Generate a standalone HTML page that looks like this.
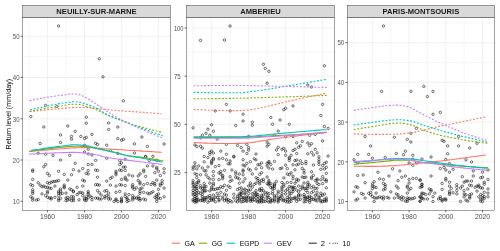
<!DOCTYPE html>
<html><head><meta charset="utf-8"><title>Return level</title>
<style>html,body{margin:0;padding:0;background:#fff;overflow:hidden}svg{display:block}</style></head>
<body>
<svg width="500" height="251" viewBox="0 0 500 251" font-family="'Liberation Sans', sans-serif">
<rect width="500" height="251" fill="#fff"/>
<g>
<path d="M22.5 180.65H170.5M22.5 139.35H170.5M22.5 98.05H170.5M22.5 56.75H170.5M29.00 17.4V210.4M66.00 17.4V210.4M103.00 17.4V210.4M140.00 17.4V210.4" stroke="#ebebeb" stroke-width="0.45" fill="none"/>
<path d="M22.5 201.3H170.5M22.5 160.0H170.5M22.5 118.8H170.5M22.5 77.5H170.5M22.5 36.2H170.5M47.50 17.4V210.4M84.50 17.4V210.4M121.50 17.4V210.4M158.50 17.4V210.4" stroke="#ebebeb" stroke-width="0.68" fill="none"/>
<g fill="none" stroke="#000" stroke-opacity="0.92" stroke-width="0.6">
<circle cx="58.6" cy="26.0" r="1.2"/><circle cx="99.3" cy="58.8" r="1.2"/><circle cx="103.0" cy="76.8" r="1.2"/><circle cx="123.4" cy="100.8" r="1.2"/><circle cx="30.8" cy="116.5" r="1.2"/><circle cx="45.6" cy="105.4" r="1.2"/><circle cx="56.8" cy="106.5" r="1.2"/><circle cx="86.3" cy="117.2" r="1.2"/><circle cx="86.3" cy="123.2" r="1.2"/><circle cx="108.6" cy="123.0" r="1.2"/><circle cx="108.6" cy="129.5" r="1.2"/><circle cx="117.8" cy="127.0" r="1.2"/><circle cx="117.8" cy="138.6" r="1.2"/><circle cx="121.5" cy="140.2" r="1.2"/><circle cx="123.4" cy="139.4" r="1.2"/><circle cx="141.9" cy="137.0" r="1.2"/><circle cx="134.4" cy="143.9" r="1.2"/><circle cx="147.4" cy="146.4" r="1.2"/><circle cx="164.1" cy="144.0" r="1.2"/><circle cx="106.7" cy="145.2" r="1.2"/><circle cx="97.5" cy="144.5" r="1.2"/><circle cx="134.4" cy="153.1" r="1.2"/><circle cx="117.8" cy="153.4" r="1.2"/><circle cx="110.4" cy="150.6" r="1.2"/><circle cx="145.6" cy="156.3" r="1.2"/><circle cx="145.6" cy="156.9" r="1.2"/><circle cx="152.9" cy="156.3" r="1.2"/><circle cx="43.8" cy="127.0" r="1.2"/><circle cx="67.8" cy="126.0" r="1.2"/><circle cx="75.2" cy="131.4" r="1.2"/><circle cx="60.5" cy="135.0" r="1.2"/><circle cx="71.5" cy="136.4" r="1.2"/><circle cx="71.5" cy="139.2" r="1.2"/><circle cx="80.8" cy="136.4" r="1.2"/><circle cx="84.5" cy="138.4" r="1.2"/><circle cx="86.3" cy="137.4" r="1.2"/><circle cx="91.9" cy="134.4" r="1.2"/><circle cx="40.1" cy="143.5" r="1.2"/><circle cx="60.5" cy="142.5" r="1.2"/><circle cx="84.5" cy="145.4" r="1.2"/><circle cx="95.6" cy="143.3" r="1.2"/><circle cx="88.2" cy="149.2" r="1.2"/><circle cx="38.2" cy="153.2" r="1.2"/><circle cx="45.6" cy="154.2" r="1.2"/><circle cx="53.0" cy="155.4" r="1.2"/><circle cx="69.7" cy="155.4" r="1.2"/><circle cx="60.5" cy="160.0" r="1.2"/><circle cx="84.5" cy="151.9" r="1.2"/><circle cx="88.2" cy="153.9" r="1.2"/><circle cx="91.9" cy="155.0" r="1.2"/><circle cx="95.6" cy="160.4" r="1.2"/><circle cx="75.2" cy="163.3" r="1.2"/><circle cx="45.6" cy="164.5" r="1.2"/><circle cx="43.8" cy="166.8" r="1.2"/><circle cx="88.2" cy="164.5" r="1.2"/><circle cx="91.9" cy="164.5" r="1.2"/><circle cx="106.7" cy="158.2" r="1.2"/><circle cx="125.2" cy="159.2" r="1.2"/><circle cx="119.7" cy="160.7" r="1.2"/><circle cx="149.2" cy="160.4" r="1.2"/><circle cx="156.7" cy="160.4" r="1.2"/><circle cx="119.7" cy="164.5" r="1.2"/><circle cx="121.5" cy="163.0" r="1.2"/><circle cx="147.4" cy="166.0" r="1.2"/><circle cx="152.9" cy="166.0" r="1.2"/><circle cx="156.7" cy="167.5" r="1.2"/><circle cx="123.4" cy="167.1" r="1.2"/><circle cx="125.2" cy="167.1" r="1.2"/><circle cx="32.7" cy="170.0" r="1.2"/><circle cx="32.7" cy="171.3" r="1.2"/><circle cx="58.6" cy="171.3" r="1.2"/><circle cx="73.4" cy="169.7" r="1.2"/><circle cx="79.0" cy="171.0" r="1.2"/><circle cx="82.7" cy="168.5" r="1.2"/><circle cx="88.2" cy="170.5" r="1.2"/><circle cx="95.6" cy="170.0" r="1.2"/><circle cx="47.5" cy="173.4" r="1.2"/><circle cx="86.3" cy="173.4" r="1.2"/><circle cx="88.2" cy="173.9" r="1.2"/><circle cx="49.4" cy="175.5" r="1.2"/><circle cx="64.2" cy="174.4" r="1.2"/><circle cx="71.5" cy="174.7" r="1.2"/><circle cx="32.7" cy="179.4" r="1.2"/><circle cx="38.2" cy="182.7" r="1.2"/><circle cx="47.5" cy="182.7" r="1.2"/><circle cx="49.4" cy="183.4" r="1.2"/><circle cx="51.2" cy="182.2" r="1.2"/><circle cx="53.0" cy="181.7" r="1.2"/><circle cx="54.9" cy="181.4" r="1.2"/><circle cx="56.8" cy="181.1" r="1.2"/><circle cx="58.6" cy="180.6" r="1.2"/><circle cx="67.8" cy="180.1" r="1.2"/><circle cx="82.7" cy="180.1" r="1.2"/><circle cx="84.5" cy="181.1" r="1.2"/><circle cx="30.8" cy="184.7" r="1.2"/><circle cx="32.7" cy="185.6" r="1.2"/><circle cx="40.1" cy="185.1" r="1.2"/><circle cx="42.0" cy="186.8" r="1.2"/><circle cx="43.8" cy="186.1" r="1.2"/><circle cx="45.6" cy="187.3" r="1.2"/><circle cx="47.5" cy="187.3" r="1.2"/><circle cx="49.4" cy="188.1" r="1.2"/><circle cx="51.2" cy="188.4" r="1.2"/><circle cx="54.9" cy="186.1" r="1.2"/><circle cx="64.2" cy="185.1" r="1.2"/><circle cx="64.2" cy="186.8" r="1.2"/><circle cx="64.2" cy="187.8" r="1.2"/><circle cx="77.1" cy="187.3" r="1.2"/><circle cx="82.7" cy="186.1" r="1.2"/><circle cx="95.6" cy="184.7" r="1.2"/><circle cx="32.7" cy="189.8" r="1.2"/><circle cx="60.5" cy="188.9" r="1.2"/><circle cx="69.7" cy="188.9" r="1.2"/><circle cx="71.5" cy="189.8" r="1.2"/><circle cx="73.4" cy="191.1" r="1.2"/><circle cx="32.7" cy="191.8" r="1.2"/><circle cx="32.7" cy="193.4" r="1.2"/><circle cx="42.0" cy="193.9" r="1.2"/><circle cx="47.5" cy="191.4" r="1.2"/><circle cx="47.5" cy="192.8" r="1.2"/><circle cx="58.6" cy="191.4" r="1.2"/><circle cx="60.5" cy="191.1" r="1.2"/><circle cx="58.6" cy="193.1" r="1.2"/><circle cx="60.5" cy="193.9" r="1.2"/><circle cx="62.3" cy="193.4" r="1.2"/><circle cx="66.0" cy="193.1" r="1.2"/><circle cx="73.4" cy="191.8" r="1.2"/><circle cx="79.0" cy="192.8" r="1.2"/><circle cx="80.8" cy="192.3" r="1.2"/><circle cx="77.1" cy="194.5" r="1.2"/><circle cx="82.7" cy="193.1" r="1.2"/><circle cx="88.2" cy="191.4" r="1.2"/><circle cx="88.2" cy="193.1" r="1.2"/><circle cx="88.2" cy="194.5" r="1.2"/><circle cx="30.8" cy="196.8" r="1.2"/><circle cx="32.7" cy="198.1" r="1.2"/><circle cx="45.6" cy="195.6" r="1.2"/><circle cx="47.5" cy="197.3" r="1.2"/><circle cx="49.4" cy="198.1" r="1.2"/><circle cx="51.2" cy="197.8" r="1.2"/><circle cx="51.2" cy="199.0" r="1.2"/><circle cx="54.9" cy="197.3" r="1.2"/><circle cx="58.6" cy="195.6" r="1.2"/><circle cx="58.6" cy="199.0" r="1.2"/><circle cx="60.5" cy="198.5" r="1.2"/><circle cx="66.0" cy="198.1" r="1.2"/><circle cx="67.8" cy="197.3" r="1.2"/><circle cx="69.7" cy="199.0" r="1.2"/><circle cx="71.5" cy="196.5" r="1.2"/><circle cx="73.4" cy="196.8" r="1.2"/><circle cx="73.4" cy="199.0" r="1.2"/><circle cx="82.7" cy="195.6" r="1.2"/><circle cx="86.3" cy="196.8" r="1.2"/><circle cx="84.5" cy="198.5" r="1.2"/><circle cx="86.3" cy="199.0" r="1.2"/><circle cx="88.2" cy="197.8" r="1.2"/><circle cx="90.1" cy="196.1" r="1.2"/><circle cx="91.9" cy="197.3" r="1.2"/><circle cx="95.6" cy="198.1" r="1.2"/><circle cx="32.7" cy="200.1" r="1.2"/><circle cx="36.4" cy="200.1" r="1.2"/><circle cx="38.2" cy="199.5" r="1.2"/><circle cx="58.6" cy="200.6" r="1.2"/><circle cx="66.0" cy="200.6" r="1.2"/><circle cx="67.8" cy="200.1" r="1.2"/><circle cx="71.5" cy="200.6" r="1.2"/><circle cx="73.4" cy="200.6" r="1.2"/><circle cx="79.0" cy="199.8" r="1.2"/><circle cx="84.5" cy="200.1" r="1.2"/><circle cx="86.3" cy="200.6" r="1.2"/><circle cx="91.9" cy="199.8" r="1.2"/><circle cx="97.5" cy="170.5" r="1.2"/><circle cx="116.0" cy="171.3" r="1.2"/><circle cx="116.0" cy="173.0" r="1.2"/><circle cx="119.7" cy="170.0" r="1.2"/><circle cx="121.5" cy="170.5" r="1.2"/><circle cx="125.2" cy="170.5" r="1.2"/><circle cx="143.7" cy="170.0" r="1.2"/><circle cx="143.7" cy="171.7" r="1.2"/><circle cx="156.7" cy="168.8" r="1.2"/><circle cx="158.5" cy="171.3" r="1.2"/><circle cx="164.1" cy="168.8" r="1.2"/><circle cx="164.1" cy="172.7" r="1.2"/><circle cx="140.0" cy="173.9" r="1.2"/><circle cx="154.8" cy="172.7" r="1.2"/><circle cx="97.5" cy="177.2" r="1.2"/><circle cx="106.7" cy="181.1" r="1.2"/><circle cx="110.4" cy="178.4" r="1.2"/><circle cx="112.2" cy="177.2" r="1.2"/><circle cx="116.0" cy="174.7" r="1.2"/><circle cx="121.5" cy="179.4" r="1.2"/><circle cx="125.2" cy="177.2" r="1.2"/><circle cx="125.2" cy="178.9" r="1.2"/><circle cx="127.0" cy="180.1" r="1.2"/><circle cx="128.9" cy="175.0" r="1.2"/><circle cx="132.6" cy="176.0" r="1.2"/><circle cx="138.2" cy="176.0" r="1.2"/><circle cx="145.6" cy="176.4" r="1.2"/><circle cx="160.4" cy="175.5" r="1.2"/><circle cx="138.2" cy="180.6" r="1.2"/><circle cx="156.7" cy="180.1" r="1.2"/><circle cx="162.2" cy="180.6" r="1.2"/><circle cx="140.0" cy="182.2" r="1.2"/><circle cx="140.0" cy="183.9" r="1.2"/><circle cx="143.7" cy="184.7" r="1.2"/><circle cx="147.4" cy="183.4" r="1.2"/><circle cx="151.1" cy="184.4" r="1.2"/><circle cx="152.9" cy="182.7" r="1.2"/><circle cx="154.8" cy="183.4" r="1.2"/><circle cx="154.8" cy="185.1" r="1.2"/><circle cx="160.4" cy="183.9" r="1.2"/><circle cx="160.4" cy="185.6" r="1.2"/><circle cx="162.2" cy="183.4" r="1.2"/><circle cx="97.5" cy="184.7" r="1.2"/><circle cx="99.3" cy="185.1" r="1.2"/><circle cx="110.4" cy="185.1" r="1.2"/><circle cx="116.0" cy="186.1" r="1.2"/><circle cx="119.7" cy="184.7" r="1.2"/><circle cx="121.5" cy="185.1" r="1.2"/><circle cx="125.2" cy="185.6" r="1.2"/><circle cx="132.6" cy="184.7" r="1.2"/><circle cx="132.6" cy="186.4" r="1.2"/><circle cx="132.6" cy="187.8" r="1.2"/><circle cx="136.3" cy="187.8" r="1.2"/><circle cx="134.4" cy="189.4" r="1.2"/><circle cx="140.0" cy="188.9" r="1.2"/><circle cx="141.9" cy="188.1" r="1.2"/><circle cx="158.5" cy="189.4" r="1.2"/><circle cx="164.1" cy="188.1" r="1.2"/><circle cx="97.5" cy="190.6" r="1.2"/><circle cx="99.3" cy="192.8" r="1.2"/><circle cx="104.8" cy="191.1" r="1.2"/><circle cx="106.7" cy="190.6" r="1.2"/><circle cx="108.6" cy="193.1" r="1.2"/><circle cx="116.0" cy="192.3" r="1.2"/><circle cx="119.7" cy="191.4" r="1.2"/><circle cx="125.2" cy="193.9" r="1.2"/><circle cx="128.9" cy="194.5" r="1.2"/><circle cx="140.0" cy="191.4" r="1.2"/><circle cx="140.0" cy="193.4" r="1.2"/><circle cx="143.7" cy="192.3" r="1.2"/><circle cx="147.4" cy="193.1" r="1.2"/><circle cx="149.2" cy="193.9" r="1.2"/><circle cx="151.1" cy="192.8" r="1.2"/><circle cx="152.9" cy="191.8" r="1.2"/><circle cx="156.7" cy="194.8" r="1.2"/><circle cx="158.5" cy="193.9" r="1.2"/><circle cx="101.2" cy="195.1" r="1.2"/><circle cx="104.8" cy="196.5" r="1.2"/><circle cx="106.7" cy="195.6" r="1.2"/><circle cx="108.6" cy="196.5" r="1.2"/><circle cx="97.5" cy="198.1" r="1.2"/><circle cx="99.3" cy="199.0" r="1.2"/><circle cx="101.2" cy="199.0" r="1.2"/><circle cx="104.8" cy="198.1" r="1.2"/><circle cx="108.6" cy="199.0" r="1.2"/><circle cx="110.4" cy="199.0" r="1.2"/><circle cx="116.0" cy="199.0" r="1.2"/><circle cx="121.5" cy="198.1" r="1.2"/><circle cx="125.2" cy="196.5" r="1.2"/><circle cx="127.0" cy="197.8" r="1.2"/><circle cx="127.0" cy="199.0" r="1.2"/><circle cx="132.6" cy="195.6" r="1.2"/><circle cx="132.6" cy="198.1" r="1.2"/><circle cx="134.4" cy="197.8" r="1.2"/><circle cx="136.3" cy="198.1" r="1.2"/><circle cx="138.2" cy="196.8" r="1.2"/><circle cx="138.2" cy="199.0" r="1.2"/><circle cx="140.0" cy="198.5" r="1.2"/><circle cx="143.7" cy="199.0" r="1.2"/><circle cx="154.8" cy="197.3" r="1.2"/><circle cx="156.7" cy="196.5" r="1.2"/><circle cx="156.7" cy="199.0" r="1.2"/><circle cx="158.5" cy="197.8" r="1.2"/><circle cx="160.4" cy="198.5" r="1.2"/><circle cx="164.1" cy="196.8" r="1.2"/><circle cx="121.5" cy="199.8" r="1.2"/><circle cx="114.1" cy="201.5" r="1.2"/><circle cx="116.0" cy="200.1" r="1.2"/><circle cx="117.8" cy="201.5" r="1.2"/><circle cx="121.5" cy="201.1" r="1.2"/><circle cx="127.0" cy="201.5" r="1.2"/><circle cx="128.9" cy="200.6" r="1.2"/><circle cx="132.6" cy="199.8" r="1.2"/><circle cx="140.0" cy="200.1" r="1.2"/><circle cx="145.6" cy="199.8" r="1.2"/><circle cx="156.7" cy="201.5" r="1.2"/><circle cx="121.5" cy="201.8" r="1.2"/>
</g>
<g fill="none" stroke-width="1.12" stroke-linejoin="round">
<path d="M29.2 151.5L31.1 151.3L32.9 151.2L34.8 151.0L36.6 150.8L38.5 150.7L40.3 150.5L42.2 150.3L44.0 150.2L45.9 150.0L47.7 149.9L49.6 149.7L51.4 149.6L53.3 149.4L55.1 149.3L57.0 149.1L58.8 149.0L60.7 148.8L62.5 148.7L64.4 148.6L66.2 148.4L68.1 148.3L69.9 148.1L71.8 148.0L73.6 147.9L75.5 147.9L77.3 147.8L79.2 147.7L81.0 147.7L82.9 147.6L84.7 147.6L86.6 147.6L88.4 147.6L90.3 147.7L92.1 147.8L94.0 147.9L95.8 148.0L97.7 148.1L99.5 148.3L101.4 148.4L103.2 148.6L105.1 148.7L106.9 148.9L108.8 149.0L110.6 149.2L112.5 149.3L114.3 149.4L116.2 149.5L118.0 149.6L119.9 149.7L121.7 149.8L123.6 149.9L125.4 150.0L127.3 150.2L129.1 150.3L131.0 150.4L132.8 150.5L134.7 150.6L136.5 150.7L138.4 150.8L140.2 150.9L142.1 151.1L143.9 151.2L145.8 151.3L147.6 151.4L149.5 151.5L151.3 151.6L153.2 151.7L155.0 151.9L156.9 152.0L158.7 152.1L160.6 152.2L161.9 152.3" stroke="#F8766D"/>
<path d="M29.2 151.3L31.1 151.1L32.9 150.8L34.8 150.6L36.6 150.3L38.5 150.1L40.3 149.9L42.2 149.6L44.0 149.4L45.9 149.1L47.7 148.9L49.6 148.7L51.4 148.4L53.3 148.2L55.1 147.9L57.0 147.7L58.8 147.5L60.7 147.3L62.5 147.1L64.4 146.9L66.2 146.8L68.1 146.6L69.9 146.5L71.8 146.4L73.6 146.3L75.5 146.3L77.3 146.3L79.2 146.3L81.0 146.4L82.9 146.4L84.7 146.5L86.6 146.6L88.4 146.8L90.3 147.1L92.1 147.5L94.0 148.0L95.8 148.4L97.7 148.8L99.5 149.2L101.4 149.6L103.2 149.9L105.1 150.3L106.9 150.7L108.8 151.1L110.6 151.5L112.5 151.9L114.3 152.3L116.2 152.7L118.0 153.1L119.9 153.6L121.7 154.2L123.6 154.7L125.4 155.2L127.3 155.6L129.1 155.8L131.0 156.1L132.8 156.3L134.7 156.5L136.5 156.7L138.4 156.9L140.2 157.1L142.1 157.4L143.9 157.6L145.8 157.9L147.6 158.2L149.5 158.5L151.3 158.8L153.2 159.1L155.0 159.4L156.9 159.8L158.7 160.1L160.6 160.5L162.4 160.8L163.4 161.0" stroke="#7CAE00"/>
<path d="M31.1 150.4L33.0 150.1L34.8 149.8L36.7 149.5L38.5 149.2L40.4 149.0L42.2 148.7L44.1 148.4L45.9 148.1L47.8 147.9L49.6 147.6L51.5 147.4L53.3 147.1L55.2 146.9L57.0 146.6L58.9 146.4L60.7 146.2L62.6 146.0L64.4 145.7L66.3 145.5L68.1 145.2L70.0 145.0L71.8 144.9L73.7 144.8L75.5 144.8L77.4 144.9L79.2 145.0L81.1 145.1L82.9 145.3L84.8 145.5L86.6 145.7L88.5 146.1L90.3 146.5L92.2 147.0L94.0 147.5L95.9 148.0L97.7 148.5L99.6 148.9L101.4 149.3L103.3 149.8L105.1 150.2L107.0 150.6L108.8 151.0L110.7 151.5L112.5 151.9L114.4 152.3L116.2 152.8L118.1 153.2L119.9 153.7L121.8 154.2L123.6 154.7L125.5 155.2L127.3 155.6L129.2 156.0L131.0 156.3L132.9 156.6L134.7 156.9L136.6 157.2L138.4 157.5L140.3 157.8L142.1 158.1L144.0 158.5L145.8 158.8L147.7 159.2L149.5 159.5L151.4 159.9L153.2 160.2L155.1 160.6L156.9 161.0L158.8 161.4L160.6 161.8L162.5 162.1" stroke="#00BFC4"/>
<path d="M29.2 154.1L31.1 154.0L32.9 154.0L34.8 153.9L36.6 153.8L38.5 153.7L40.3 153.7L42.2 153.6L44.0 153.5L45.9 153.4L47.7 153.3L49.6 153.2L51.4 153.1L53.3 153.0L55.1 152.9L57.0 152.8L58.8 152.7L60.7 152.7L62.5 152.6L64.4 152.6L66.2 152.5L68.1 152.5L69.9 152.4L71.8 152.4L73.6 152.4L75.5 152.4L77.3 152.5L79.2 152.6L81.0 152.8L82.9 152.9L84.7 153.1L86.6 153.3L88.4 153.5L90.3 153.8L92.1 154.0L94.0 154.3L95.8 154.7L97.7 155.0L99.5 155.5L101.4 156.1L103.2 156.7L105.1 157.1L106.9 157.4L108.8 157.8L110.6 158.0L112.5 158.3L114.3 158.5L116.2 158.8L118.0 159.0L119.9 159.2L121.7 159.4L123.6 159.7L125.4 159.9L127.3 160.1L129.1 160.4L131.0 160.6L132.8 160.8L134.7 161.1L136.5 161.3L138.4 161.5L140.2 161.8L142.1 162.0L143.9 162.2L145.8 162.5L147.6 162.7L149.5 162.9L151.3 163.1L153.2 163.4L155.0 163.6L156.9 163.8L158.7 164.0L160.6 164.3L162.4 164.5" stroke="#C77CFF"/>
<path d="M29.6 111.5L31.5 111.3L33.3 111.1L35.2 111.0L37.0 110.8L38.9 110.6L40.7 110.4L42.6 110.2L44.4 110.1L46.3 109.9L48.1 109.7L50.0 109.6L51.8 109.4L53.7 109.2L55.5 109.0L57.4 108.9L59.2 108.7L61.1 108.5L62.9 108.3L64.8 108.1L66.6 107.9L68.5 107.8L70.3 107.7L72.2 107.6L74.0 107.5L75.9 107.5L77.7 107.5L79.6 107.5L81.4 107.5L83.3 107.5L85.1 107.5L87.0 107.6L88.8 107.7L90.7 107.9L92.5 108.0L94.4 108.2L96.2 108.4L98.1 108.6L99.9 108.8L101.8 109.0L103.6 109.2L105.5 109.4L107.3 109.6L109.2 109.8L111.0 110.0L112.9 110.2L114.7 110.3L116.6 110.5L118.4 110.7L120.3 110.8L122.1 110.9L124.0 111.1L125.8 111.2L127.7 111.3L129.5 111.4L131.4 111.5L133.2 111.7L135.1 111.8L136.9 111.9L138.8 112.0L140.6 112.2L142.5 112.3L144.3 112.4L146.2 112.6L148.0 112.7L149.9 112.8L151.7 113.0L153.6 113.1L155.4 113.2L157.3 113.4L159.1 113.5L161.0 113.7L161.5 113.7" stroke="#F8766D" stroke-dasharray="1.9 1.65"/>
<path d="M29.6 111.5L31.5 111.1L33.3 110.7L35.2 110.4L37.0 110.0L38.9 109.6L40.7 109.3L42.6 108.9L44.4 108.6L46.3 108.3L48.1 108.0L50.0 107.7L51.8 107.4L53.7 107.1L55.5 106.9L57.4 106.6L59.2 106.3L61.1 106.0L62.9 105.7L64.8 105.3L66.6 105.0L68.5 104.7L70.3 104.5L72.2 104.3L74.0 104.2L75.9 104.2L77.7 104.3L79.6 104.5L81.4 104.8L83.3 105.3L85.1 106.0L87.0 106.5L88.8 106.9L90.7 107.5L92.5 108.2L94.4 108.9L96.2 109.7L98.1 110.6L99.9 111.4L101.8 112.3L103.6 113.2L105.5 114.1L107.3 114.9L109.2 115.7L111.0 116.4L112.9 117.2L114.7 117.9L116.6 118.6L118.4 119.3L120.3 120.0L122.1 120.7L124.0 121.4L125.8 122.1L127.7 122.8L129.5 123.5L131.4 124.1L133.2 124.7L135.1 125.2L136.9 125.7L138.8 126.2L140.6 126.8L142.5 127.3L144.3 127.8L146.2 128.3L148.0 128.8L149.9 129.2L151.7 129.7L153.6 130.2L155.4 130.7L157.3 131.2L159.1 131.6L161.0 132.1L162.7 132.5" stroke="#7CAE00" stroke-dasharray="1.9 1.65"/>
<path d="M30.3 109.7L32.1 109.3L34.0 108.9L35.8 108.5L37.7 108.1L39.5 107.7L41.4 107.3L43.2 106.9L45.1 106.5L46.9 106.1L48.8 105.8L50.6 105.4L52.5 105.0L54.3 104.6L56.2 104.3L58.0 103.9L59.9 103.6L61.7 103.3L63.6 103.0L65.4 102.7L67.3 102.4L69.1 102.1L71.0 101.9L72.8 101.8L74.7 101.8L76.5 101.8L78.4 102.0L80.2 102.3L82.1 102.8L83.9 103.3L85.8 103.9L87.6 104.5L89.5 105.2L91.3 105.9L93.2 106.7L95.0 107.5L96.9 108.4L98.7 109.4L100.6 110.5L102.4 111.8L104.3 113.1L106.1 114.1L108.0 115.0L109.8 115.9L111.7 116.6L113.5 117.4L115.4 118.2L117.2 118.9L119.1 119.6L120.9 120.3L122.8 121.0L124.6 121.7L126.5 122.4L128.3 123.1L130.2 123.8L132.0 124.6L133.9 125.3L135.7 126.0L137.6 126.7L139.4 127.4L141.3 128.1L143.1 128.8L145.0 129.5L146.8 130.2L148.7 130.8L150.5 131.5L152.4 132.2L154.2 132.8L156.1 133.5L157.9 134.1L159.8 134.7L161.6 135.4L162.7 135.7" stroke="#00BFC4" stroke-dasharray="1.9 1.65"/>
<path d="M29.6 100.9L31.5 100.4L33.3 100.0L35.2 99.6L37.0 99.2L38.9 98.8L40.7 98.4L42.6 98.1L44.4 97.7L46.3 97.4L48.1 97.1L50.0 96.8L51.8 96.5L53.7 96.3L55.5 96.0L57.4 95.8L59.2 95.5L61.1 95.3L62.9 95.1L64.8 94.8L66.6 94.6L68.5 94.3L70.3 94.0L72.2 94.0L74.0 94.0L75.9 94.0L77.7 94.3L79.6 94.8L81.4 95.5L83.3 96.2L85.1 97.1L87.0 98.1L88.8 99.3L90.7 100.6L92.5 101.7L94.4 102.9L96.2 104.1L98.1 105.3L99.9 106.6L101.8 107.8L103.6 109.1L105.5 110.3L107.3 111.5L109.2 112.7L111.0 113.9L112.9 115.1L114.7 116.2L116.6 117.3L118.4 118.3L120.3 119.3L122.1 120.3L124.0 121.2L125.8 122.2L127.7 123.0L129.5 123.9L131.4 124.8L133.2 125.6L135.1 126.5L136.9 127.3L138.8 128.1L140.6 128.9L142.5 129.7L144.3 130.5L146.2 131.3L148.0 132.1L149.9 132.8L151.7 133.6L153.6 134.4L155.4 135.1L157.3 135.9L159.1 136.6L161.0 137.3L162.7 138.0" stroke="#C77CFF" stroke-dasharray="1.9 1.65"/>
</g>
<rect x="22.5" y="17.4" width="148.0" height="193.0" fill="none" stroke="#333" stroke-width="0.45"/>
<rect x="22.5" y="5.4" width="148.0" height="11.999999999999998" fill="#d9d9d9" stroke="#333" stroke-width="0.45"/>
<text x="96.5" y="14.15" font-size="7.6" font-weight="bold" text-anchor="middle" fill="#1a1a1a">NEUILLY-SUR-MARNE</text>
<text x="12.80" y="204.00" font-size="7.6" textLength="6.7" lengthAdjust="spacingAndGlyphs" fill="#4d4d4d">10</text>
<text x="12.80" y="162.70" font-size="7.6" textLength="6.7" lengthAdjust="spacingAndGlyphs" fill="#4d4d4d">20</text>
<text x="12.80" y="121.50" font-size="7.6" textLength="6.7" lengthAdjust="spacingAndGlyphs" fill="#4d4d4d">30</text>
<text x="12.80" y="80.20" font-size="7.6" textLength="6.7" lengthAdjust="spacingAndGlyphs" fill="#4d4d4d">40</text>
<text x="12.80" y="38.90" font-size="7.6" textLength="6.7" lengthAdjust="spacingAndGlyphs" fill="#4d4d4d">50</text>
<text x="47.50" y="218.95" font-size="7.6" text-anchor="middle" textLength="15.2" lengthAdjust="spacingAndGlyphs" fill="#4d4d4d">1960</text>
<text x="84.50" y="218.95" font-size="7.6" text-anchor="middle" textLength="15.2" lengthAdjust="spacingAndGlyphs" fill="#4d4d4d">1980</text>
<text x="121.50" y="218.95" font-size="7.6" text-anchor="middle" textLength="15.2" lengthAdjust="spacingAndGlyphs" fill="#4d4d4d">2000</text>
<text x="158.50" y="218.95" font-size="7.6" text-anchor="middle" textLength="15.2" lengthAdjust="spacingAndGlyphs" fill="#4d4d4d">2020</text>
<path d="M20.6 201.3H22.5M20.6 160.0H22.5M20.6 118.8H22.5M20.6 77.5H22.5M20.6 36.2H22.5M47.50 210.4V212.3M84.50 210.4V212.3M121.50 210.4V212.3M158.50 210.4V212.3" stroke="#333" stroke-width="0.75" fill="none"/>
</g>
<g>
<path d="M186.5 196.70H334.4M186.5 148.50H334.4M186.5 100.30H334.4M186.5 52.10H334.4M193.10 17.4V210.4M230.10 17.4V210.4M267.10 17.4V210.4M304.10 17.4V210.4" stroke="#ebebeb" stroke-width="0.45" fill="none"/>
<path d="M186.5 172.6H334.4M186.5 124.4H334.4M186.5 76.2H334.4M186.5 28.0H334.4M211.60 17.4V210.4M248.60 17.4V210.4M285.60 17.4V210.4M322.60 17.4V210.4" stroke="#ebebeb" stroke-width="0.68" fill="none"/>
<g fill="none" stroke="#000" stroke-opacity="0.92" stroke-width="0.6">
<circle cx="230.1" cy="26.0" r="1.2"/><circle cx="200.5" cy="40.4" r="1.2"/><circle cx="224.5" cy="40.0" r="1.2"/><circle cx="263.4" cy="64.3" r="1.2"/><circle cx="265.2" cy="68.5" r="1.2"/><circle cx="268.9" cy="71.3" r="1.2"/><circle cx="267.1" cy="83.2" r="1.2"/><circle cx="307.8" cy="85.0" r="1.2"/><circle cx="311.5" cy="87.0" r="1.2"/><circle cx="324.4" cy="65.8" r="1.2"/><circle cx="226.4" cy="104.4" r="1.2"/><circle cx="215.3" cy="110.9" r="1.2"/><circle cx="230.1" cy="110.9" r="1.2"/><circle cx="243.1" cy="114.2" r="1.2"/><circle cx="243.1" cy="121.0" r="1.2"/><circle cx="252.3" cy="122.2" r="1.2"/><circle cx="252.3" cy="125.3" r="1.2"/><circle cx="235.7" cy="125.5" r="1.2"/><circle cx="211.6" cy="124.8" r="1.2"/><circle cx="193.1" cy="127.8" r="1.2"/><circle cx="207.9" cy="129.2" r="1.2"/><circle cx="213.4" cy="131.3" r="1.2"/><circle cx="206.0" cy="133.3" r="1.2"/><circle cx="202.3" cy="135.2" r="1.2"/><circle cx="209.8" cy="135.2" r="1.2"/><circle cx="322.6" cy="104.4" r="1.2"/><circle cx="293.0" cy="105.9" r="1.2"/><circle cx="285.6" cy="108.2" r="1.2"/><circle cx="283.8" cy="109.7" r="1.2"/><circle cx="270.8" cy="117.5" r="1.2"/><circle cx="280.1" cy="120.0" r="1.2"/><circle cx="320.8" cy="115.5" r="1.2"/><circle cx="272.6" cy="124.3" r="1.2"/><circle cx="289.3" cy="124.3" r="1.2"/><circle cx="324.4" cy="126.5" r="1.2"/><circle cx="328.1" cy="128.4" r="1.2"/><circle cx="200.5" cy="137.9" r="1.2"/><circle cx="217.2" cy="139.1" r="1.2"/><circle cx="248.6" cy="136.4" r="1.2"/><circle cx="194.9" cy="145.0" r="1.2"/><circle cx="196.8" cy="146.5" r="1.2"/><circle cx="200.5" cy="146.2" r="1.2"/><circle cx="202.3" cy="148.2" r="1.2"/><circle cx="226.4" cy="144.4" r="1.2"/><circle cx="237.5" cy="145.5" r="1.2"/><circle cx="241.2" cy="147.5" r="1.2"/><circle cx="246.8" cy="144.4" r="1.2"/><circle cx="248.6" cy="147.5" r="1.2"/><circle cx="248.6" cy="150.0" r="1.2"/><circle cx="243.1" cy="151.1" r="1.2"/><circle cx="246.8" cy="153.5" r="1.2"/><circle cx="256.0" cy="154.1" r="1.2"/><circle cx="220.8" cy="151.1" r="1.2"/><circle cx="211.6" cy="151.1" r="1.2"/><circle cx="209.8" cy="152.3" r="1.2"/><circle cx="213.4" cy="153.1" r="1.2"/><circle cx="209.8" cy="154.3" r="1.2"/><circle cx="226.4" cy="154.3" r="1.2"/><circle cx="233.8" cy="156.2" r="1.2"/><circle cx="233.8" cy="157.0" r="1.2"/><circle cx="204.2" cy="156.5" r="1.2"/><circle cx="207.9" cy="157.6" r="1.2"/><circle cx="213.4" cy="158.4" r="1.2"/><circle cx="222.7" cy="158.4" r="1.2"/><circle cx="219.0" cy="158.8" r="1.2"/><circle cx="254.2" cy="158.8" r="1.2"/><circle cx="278.2" cy="131.1" r="1.2"/><circle cx="274.5" cy="135.3" r="1.2"/><circle cx="285.6" cy="136.8" r="1.2"/><circle cx="293.0" cy="136.5" r="1.2"/><circle cx="309.6" cy="135.3" r="1.2"/><circle cx="315.2" cy="134.4" r="1.2"/><circle cx="322.6" cy="140.9" r="1.2"/><circle cx="267.1" cy="142.2" r="1.2"/><circle cx="268.9" cy="144.3" r="1.2"/><circle cx="267.1" cy="146.2" r="1.2"/><circle cx="296.7" cy="142.8" r="1.2"/><circle cx="302.2" cy="141.4" r="1.2"/><circle cx="307.8" cy="142.9" r="1.2"/><circle cx="311.5" cy="143.7" r="1.2"/><circle cx="309.6" cy="145.5" r="1.2"/><circle cx="300.4" cy="145.8" r="1.2"/><circle cx="298.6" cy="147.3" r="1.2"/><circle cx="278.2" cy="147.3" r="1.2"/><circle cx="276.4" cy="150.0" r="1.2"/><circle cx="281.9" cy="149.3" r="1.2"/><circle cx="283.8" cy="148.5" r="1.2"/><circle cx="285.6" cy="151.1" r="1.2"/><circle cx="294.9" cy="149.3" r="1.2"/><circle cx="293.0" cy="150.5" r="1.2"/><circle cx="315.2" cy="149.3" r="1.2"/><circle cx="278.2" cy="154.6" r="1.2"/><circle cx="285.6" cy="155.3" r="1.2"/><circle cx="291.1" cy="155.3" r="1.2"/><circle cx="296.7" cy="153.5" r="1.2"/><circle cx="307.8" cy="153.8" r="1.2"/><circle cx="311.5" cy="152.3" r="1.2"/><circle cx="313.4" cy="155.0" r="1.2"/><circle cx="317.1" cy="152.8" r="1.2"/><circle cx="318.9" cy="156.8" r="1.2"/><circle cx="328.1" cy="156.1" r="1.2"/><circle cx="289.3" cy="157.6" r="1.2"/><circle cx="289.3" cy="158.5" r="1.2"/><circle cx="194.9" cy="162.8" r="1.2"/><circle cx="204.2" cy="161.8" r="1.2"/><circle cx="211.6" cy="162.4" r="1.2"/><circle cx="211.6" cy="160.8" r="1.2"/><circle cx="213.4" cy="159.6" r="1.2"/><circle cx="230.1" cy="161.0" r="1.2"/><circle cx="226.4" cy="159.8" r="1.2"/><circle cx="243.1" cy="159.7" r="1.2"/><circle cx="256.0" cy="159.9" r="1.2"/><circle cx="250.4" cy="161.7" r="1.2"/><circle cx="268.9" cy="162.8" r="1.2"/><circle cx="268.9" cy="161.5" r="1.2"/><circle cx="261.6" cy="162.9" r="1.2"/><circle cx="274.5" cy="161.4" r="1.2"/><circle cx="289.3" cy="160.5" r="1.2"/><circle cx="294.9" cy="160.6" r="1.2"/><circle cx="296.7" cy="160.1" r="1.2"/><circle cx="305.9" cy="161.5" r="1.2"/><circle cx="300.4" cy="160.8" r="1.2"/><circle cx="318.9" cy="162.0" r="1.2"/><circle cx="318.9" cy="159.7" r="1.2"/><circle cx="326.3" cy="162.2" r="1.2"/><circle cx="194.9" cy="165.9" r="1.2"/><circle cx="193.1" cy="167.0" r="1.2"/><circle cx="207.9" cy="166.9" r="1.2"/><circle cx="198.7" cy="165.9" r="1.2"/><circle cx="219.0" cy="165.5" r="1.2"/><circle cx="215.3" cy="166.6" r="1.2"/><circle cx="211.6" cy="163.6" r="1.2"/><circle cx="230.1" cy="163.8" r="1.2"/><circle cx="228.2" cy="163.8" r="1.2"/><circle cx="243.1" cy="165.1" r="1.2"/><circle cx="246.8" cy="163.4" r="1.2"/><circle cx="244.9" cy="165.9" r="1.2"/><circle cx="259.7" cy="164.6" r="1.2"/><circle cx="257.9" cy="164.8" r="1.2"/><circle cx="267.1" cy="165.9" r="1.2"/><circle cx="267.1" cy="163.3" r="1.2"/><circle cx="261.6" cy="167.7" r="1.2"/><circle cx="270.8" cy="164.5" r="1.2"/><circle cx="281.9" cy="168.0" r="1.2"/><circle cx="285.6" cy="165.2" r="1.2"/><circle cx="296.7" cy="164.9" r="1.2"/><circle cx="293.0" cy="164.8" r="1.2"/><circle cx="305.9" cy="163.6" r="1.2"/><circle cx="298.6" cy="164.1" r="1.2"/><circle cx="302.2" cy="163.6" r="1.2"/><circle cx="313.4" cy="165.0" r="1.2"/><circle cx="322.6" cy="165.5" r="1.2"/><circle cx="318.9" cy="164.4" r="1.2"/><circle cx="326.3" cy="167.3" r="1.2"/><circle cx="324.4" cy="163.4" r="1.2"/><circle cx="193.1" cy="169.2" r="1.2"/><circle cx="196.8" cy="168.9" r="1.2"/><circle cx="202.3" cy="168.0" r="1.2"/><circle cx="204.2" cy="170.7" r="1.2"/><circle cx="206.0" cy="170.8" r="1.2"/><circle cx="213.4" cy="171.5" r="1.2"/><circle cx="219.0" cy="172.8" r="1.2"/><circle cx="220.8" cy="171.4" r="1.2"/><circle cx="224.5" cy="170.3" r="1.2"/><circle cx="235.7" cy="171.9" r="1.2"/><circle cx="231.9" cy="170.0" r="1.2"/><circle cx="243.1" cy="170.0" r="1.2"/><circle cx="243.1" cy="171.2" r="1.2"/><circle cx="248.6" cy="169.0" r="1.2"/><circle cx="250.4" cy="170.2" r="1.2"/><circle cx="256.0" cy="168.8" r="1.2"/><circle cx="261.6" cy="172.7" r="1.2"/><circle cx="268.9" cy="168.1" r="1.2"/><circle cx="272.6" cy="169.0" r="1.2"/><circle cx="280.1" cy="168.7" r="1.2"/><circle cx="291.1" cy="172.8" r="1.2"/><circle cx="294.9" cy="169.8" r="1.2"/><circle cx="287.4" cy="168.6" r="1.2"/><circle cx="304.1" cy="173.0" r="1.2"/><circle cx="304.1" cy="170.4" r="1.2"/><circle cx="302.2" cy="168.4" r="1.2"/><circle cx="311.5" cy="171.7" r="1.2"/><circle cx="320.8" cy="169.3" r="1.2"/><circle cx="324.4" cy="169.0" r="1.2"/><circle cx="194.9" cy="173.7" r="1.2"/><circle cx="196.8" cy="177.6" r="1.2"/><circle cx="196.8" cy="174.5" r="1.2"/><circle cx="207.9" cy="177.3" r="1.2"/><circle cx="206.0" cy="174.8" r="1.2"/><circle cx="200.5" cy="174.8" r="1.2"/><circle cx="213.4" cy="175.7" r="1.2"/><circle cx="222.7" cy="175.5" r="1.2"/><circle cx="220.8" cy="174.1" r="1.2"/><circle cx="222.7" cy="176.9" r="1.2"/><circle cx="235.7" cy="177.3" r="1.2"/><circle cx="235.7" cy="174.2" r="1.2"/><circle cx="230.1" cy="176.7" r="1.2"/><circle cx="239.3" cy="174.0" r="1.2"/><circle cx="243.1" cy="174.8" r="1.2"/><circle cx="237.5" cy="177.9" r="1.2"/><circle cx="259.7" cy="174.4" r="1.2"/><circle cx="252.3" cy="174.0" r="1.2"/><circle cx="256.0" cy="177.8" r="1.2"/><circle cx="267.1" cy="177.0" r="1.2"/><circle cx="283.8" cy="177.9" r="1.2"/><circle cx="287.4" cy="174.1" r="1.2"/><circle cx="289.3" cy="174.7" r="1.2"/><circle cx="293.0" cy="176.1" r="1.2"/><circle cx="305.9" cy="177.2" r="1.2"/><circle cx="304.1" cy="177.5" r="1.2"/><circle cx="302.2" cy="177.0" r="1.2"/><circle cx="311.5" cy="177.2" r="1.2"/><circle cx="322.6" cy="176.6" r="1.2"/><circle cx="313.4" cy="175.4" r="1.2"/><circle cx="326.3" cy="173.4" r="1.2"/><circle cx="196.8" cy="182.7" r="1.2"/><circle cx="193.1" cy="183.0" r="1.2"/><circle cx="193.1" cy="180.7" r="1.2"/><circle cx="198.7" cy="182.0" r="1.2"/><circle cx="198.7" cy="180.6" r="1.2"/><circle cx="209.8" cy="179.0" r="1.2"/><circle cx="213.4" cy="179.5" r="1.2"/><circle cx="219.0" cy="179.6" r="1.2"/><circle cx="222.7" cy="178.7" r="1.2"/><circle cx="230.1" cy="181.3" r="1.2"/><circle cx="231.9" cy="180.1" r="1.2"/><circle cx="244.9" cy="178.8" r="1.2"/><circle cx="243.1" cy="181.9" r="1.2"/><circle cx="239.3" cy="178.9" r="1.2"/><circle cx="257.9" cy="178.6" r="1.2"/><circle cx="257.9" cy="180.6" r="1.2"/><circle cx="259.7" cy="181.9" r="1.2"/><circle cx="263.4" cy="179.4" r="1.2"/><circle cx="268.9" cy="180.3" r="1.2"/><circle cx="261.6" cy="180.2" r="1.2"/><circle cx="263.4" cy="181.5" r="1.2"/><circle cx="268.9" cy="182.0" r="1.2"/><circle cx="276.4" cy="181.5" r="1.2"/><circle cx="281.9" cy="182.5" r="1.2"/><circle cx="293.0" cy="178.7" r="1.2"/><circle cx="296.7" cy="179.2" r="1.2"/><circle cx="287.4" cy="182.5" r="1.2"/><circle cx="296.7" cy="181.2" r="1.2"/><circle cx="291.1" cy="182.4" r="1.2"/><circle cx="298.6" cy="180.0" r="1.2"/><circle cx="307.8" cy="182.2" r="1.2"/><circle cx="304.1" cy="183.0" r="1.2"/><circle cx="317.1" cy="179.0" r="1.2"/><circle cx="320.8" cy="179.8" r="1.2"/><circle cx="317.1" cy="180.2" r="1.2"/><circle cx="315.2" cy="180.6" r="1.2"/><circle cx="311.5" cy="178.6" r="1.2"/><circle cx="324.4" cy="179.4" r="1.2"/><circle cx="326.3" cy="180.0" r="1.2"/><circle cx="326.3" cy="181.5" r="1.2"/><circle cx="193.1" cy="187.0" r="1.2"/><circle cx="193.1" cy="184.3" r="1.2"/><circle cx="194.9" cy="188.0" r="1.2"/><circle cx="194.9" cy="186.1" r="1.2"/><circle cx="196.8" cy="184.2" r="1.2"/><circle cx="196.8" cy="186.8" r="1.2"/><circle cx="206.0" cy="186.4" r="1.2"/><circle cx="209.8" cy="183.1" r="1.2"/><circle cx="200.5" cy="185.6" r="1.2"/><circle cx="204.2" cy="183.5" r="1.2"/><circle cx="204.2" cy="186.3" r="1.2"/><circle cx="204.2" cy="187.9" r="1.2"/><circle cx="200.5" cy="187.9" r="1.2"/><circle cx="222.7" cy="187.4" r="1.2"/><circle cx="213.4" cy="185.0" r="1.2"/><circle cx="211.6" cy="187.2" r="1.2"/><circle cx="220.8" cy="186.7" r="1.2"/><circle cx="213.4" cy="183.3" r="1.2"/><circle cx="230.1" cy="187.4" r="1.2"/><circle cx="228.2" cy="186.0" r="1.2"/><circle cx="224.5" cy="185.3" r="1.2"/><circle cx="241.2" cy="187.8" r="1.2"/><circle cx="239.3" cy="183.2" r="1.2"/><circle cx="250.4" cy="183.0" r="1.2"/><circle cx="254.2" cy="184.4" r="1.2"/><circle cx="250.4" cy="185.5" r="1.2"/><circle cx="252.3" cy="187.1" r="1.2"/><circle cx="256.0" cy="183.2" r="1.2"/><circle cx="248.6" cy="185.9" r="1.2"/><circle cx="259.7" cy="183.8" r="1.2"/><circle cx="268.9" cy="184.9" r="1.2"/><circle cx="267.1" cy="183.7" r="1.2"/><circle cx="270.8" cy="183.7" r="1.2"/><circle cx="270.8" cy="187.5" r="1.2"/><circle cx="268.9" cy="183.7" r="1.2"/><circle cx="272.6" cy="187.0" r="1.2"/><circle cx="281.9" cy="187.0" r="1.2"/><circle cx="283.8" cy="186.2" r="1.2"/><circle cx="274.5" cy="183.7" r="1.2"/><circle cx="274.5" cy="184.9" r="1.2"/><circle cx="274.5" cy="186.1" r="1.2"/><circle cx="283.8" cy="184.2" r="1.2"/><circle cx="293.0" cy="187.0" r="1.2"/><circle cx="294.9" cy="187.5" r="1.2"/><circle cx="294.9" cy="183.3" r="1.2"/><circle cx="291.1" cy="187.0" r="1.2"/><circle cx="289.3" cy="186.6" r="1.2"/><circle cx="307.8" cy="186.2" r="1.2"/><circle cx="309.6" cy="184.9" r="1.2"/><circle cx="307.8" cy="184.4" r="1.2"/><circle cx="298.6" cy="186.0" r="1.2"/><circle cx="302.2" cy="186.1" r="1.2"/><circle cx="302.2" cy="187.9" r="1.2"/><circle cx="313.4" cy="186.4" r="1.2"/><circle cx="318.9" cy="184.4" r="1.2"/><circle cx="322.6" cy="183.6" r="1.2"/><circle cx="311.5" cy="187.7" r="1.2"/><circle cx="317.1" cy="183.4" r="1.2"/><circle cx="326.3" cy="187.8" r="1.2"/><circle cx="196.8" cy="190.5" r="1.2"/><circle cx="193.1" cy="190.5" r="1.2"/><circle cx="194.9" cy="191.4" r="1.2"/><circle cx="196.8" cy="188.7" r="1.2"/><circle cx="193.1" cy="192.7" r="1.2"/><circle cx="198.7" cy="192.5" r="1.2"/><circle cx="202.3" cy="188.3" r="1.2"/><circle cx="209.8" cy="190.9" r="1.2"/><circle cx="204.2" cy="191.8" r="1.2"/><circle cx="202.3" cy="191.2" r="1.2"/><circle cx="206.0" cy="190.7" r="1.2"/><circle cx="204.2" cy="190.3" r="1.2"/><circle cx="220.8" cy="192.3" r="1.2"/><circle cx="219.0" cy="188.6" r="1.2"/><circle cx="215.3" cy="189.4" r="1.2"/><circle cx="213.4" cy="189.5" r="1.2"/><circle cx="217.2" cy="188.6" r="1.2"/><circle cx="211.6" cy="189.0" r="1.2"/><circle cx="226.4" cy="190.3" r="1.2"/><circle cx="243.1" cy="190.1" r="1.2"/><circle cx="239.3" cy="188.5" r="1.2"/><circle cx="237.5" cy="189.6" r="1.2"/><circle cx="244.9" cy="189.0" r="1.2"/><circle cx="246.8" cy="190.6" r="1.2"/><circle cx="241.2" cy="191.8" r="1.2"/><circle cx="244.9" cy="192.8" r="1.2"/><circle cx="256.0" cy="190.6" r="1.2"/><circle cx="259.7" cy="189.1" r="1.2"/><circle cx="250.4" cy="189.9" r="1.2"/><circle cx="254.2" cy="192.8" r="1.2"/><circle cx="248.6" cy="190.1" r="1.2"/><circle cx="259.7" cy="190.4" r="1.2"/><circle cx="261.6" cy="188.4" r="1.2"/><circle cx="267.1" cy="192.9" r="1.2"/><circle cx="263.4" cy="190.6" r="1.2"/><circle cx="272.6" cy="191.6" r="1.2"/><circle cx="261.6" cy="190.8" r="1.2"/><circle cx="272.6" cy="188.6" r="1.2"/><circle cx="265.2" cy="192.8" r="1.2"/><circle cx="281.9" cy="191.2" r="1.2"/><circle cx="274.5" cy="188.5" r="1.2"/><circle cx="281.9" cy="189.0" r="1.2"/><circle cx="285.6" cy="191.0" r="1.2"/><circle cx="278.2" cy="193.0" r="1.2"/><circle cx="278.2" cy="191.2" r="1.2"/><circle cx="289.3" cy="190.7" r="1.2"/><circle cx="293.0" cy="191.5" r="1.2"/><circle cx="287.4" cy="189.0" r="1.2"/><circle cx="296.7" cy="190.1" r="1.2"/><circle cx="293.0" cy="188.2" r="1.2"/><circle cx="293.0" cy="189.8" r="1.2"/><circle cx="298.6" cy="192.0" r="1.2"/><circle cx="305.9" cy="188.3" r="1.2"/><circle cx="300.4" cy="189.6" r="1.2"/><circle cx="305.9" cy="190.5" r="1.2"/><circle cx="307.8" cy="188.3" r="1.2"/><circle cx="304.1" cy="188.3" r="1.2"/><circle cx="307.8" cy="192.4" r="1.2"/><circle cx="311.5" cy="192.7" r="1.2"/><circle cx="313.4" cy="191.3" r="1.2"/><circle cx="317.1" cy="188.2" r="1.2"/><circle cx="317.1" cy="192.2" r="1.2"/><circle cx="315.2" cy="188.4" r="1.2"/><circle cx="196.8" cy="197.6" r="1.2"/><circle cx="194.9" cy="196.7" r="1.2"/><circle cx="196.8" cy="195.1" r="1.2"/><circle cx="193.1" cy="194.9" r="1.2"/><circle cx="196.8" cy="193.3" r="1.2"/><circle cx="194.9" cy="194.4" r="1.2"/><circle cx="202.3" cy="196.7" r="1.2"/><circle cx="202.3" cy="194.5" r="1.2"/><circle cx="206.0" cy="197.6" r="1.2"/><circle cx="200.5" cy="193.5" r="1.2"/><circle cx="204.2" cy="197.8" r="1.2"/><circle cx="209.8" cy="195.5" r="1.2"/><circle cx="209.8" cy="197.7" r="1.2"/><circle cx="207.9" cy="196.9" r="1.2"/><circle cx="215.3" cy="197.3" r="1.2"/><circle cx="222.7" cy="196.9" r="1.2"/><circle cx="213.4" cy="195.0" r="1.2"/><circle cx="217.2" cy="193.3" r="1.2"/><circle cx="219.0" cy="195.7" r="1.2"/><circle cx="217.2" cy="197.4" r="1.2"/><circle cx="224.5" cy="194.0" r="1.2"/><circle cx="233.8" cy="197.9" r="1.2"/><circle cx="226.4" cy="195.1" r="1.2"/><circle cx="233.8" cy="194.2" r="1.2"/><circle cx="246.8" cy="196.8" r="1.2"/><circle cx="241.2" cy="194.5" r="1.2"/><circle cx="239.3" cy="193.9" r="1.2"/><circle cx="241.2" cy="197.4" r="1.2"/><circle cx="241.2" cy="193.3" r="1.2"/><circle cx="239.3" cy="195.5" r="1.2"/><circle cx="237.5" cy="196.3" r="1.2"/><circle cx="243.1" cy="197.4" r="1.2"/><circle cx="244.9" cy="194.0" r="1.2"/><circle cx="256.0" cy="197.3" r="1.2"/><circle cx="252.3" cy="196.9" r="1.2"/><circle cx="248.6" cy="193.5" r="1.2"/><circle cx="256.0" cy="194.7" r="1.2"/><circle cx="252.3" cy="193.7" r="1.2"/><circle cx="257.9" cy="196.3" r="1.2"/><circle cx="248.6" cy="197.1" r="1.2"/><circle cx="254.2" cy="196.3" r="1.2"/><circle cx="256.0" cy="193.5" r="1.2"/><circle cx="257.9" cy="194.4" r="1.2"/><circle cx="267.1" cy="197.8" r="1.2"/><circle cx="268.9" cy="197.4" r="1.2"/><circle cx="261.6" cy="197.3" r="1.2"/><circle cx="263.4" cy="195.0" r="1.2"/><circle cx="261.6" cy="195.2" r="1.2"/><circle cx="267.1" cy="195.9" r="1.2"/><circle cx="272.6" cy="193.8" r="1.2"/><circle cx="268.9" cy="193.7" r="1.2"/><circle cx="281.9" cy="196.1" r="1.2"/><circle cx="281.9" cy="193.9" r="1.2"/><circle cx="276.4" cy="195.6" r="1.2"/><circle cx="280.1" cy="196.8" r="1.2"/><circle cx="285.6" cy="194.0" r="1.2"/><circle cx="274.5" cy="197.9" r="1.2"/><circle cx="274.5" cy="196.0" r="1.2"/><circle cx="287.4" cy="197.5" r="1.2"/><circle cx="289.3" cy="196.2" r="1.2"/><circle cx="294.9" cy="197.2" r="1.2"/><circle cx="289.3" cy="193.2" r="1.2"/><circle cx="291.1" cy="193.6" r="1.2"/><circle cx="307.8" cy="197.1" r="1.2"/><circle cx="305.9" cy="197.2" r="1.2"/><circle cx="298.6" cy="194.9" r="1.2"/><circle cx="309.6" cy="196.1" r="1.2"/><circle cx="304.1" cy="194.5" r="1.2"/><circle cx="304.1" cy="196.3" r="1.2"/><circle cx="298.6" cy="196.1" r="1.2"/><circle cx="300.4" cy="195.2" r="1.2"/><circle cx="322.6" cy="195.3" r="1.2"/><circle cx="317.1" cy="195.0" r="1.2"/><circle cx="315.2" cy="195.2" r="1.2"/><circle cx="320.8" cy="193.2" r="1.2"/><circle cx="311.5" cy="197.6" r="1.2"/><circle cx="320.8" cy="195.6" r="1.2"/><circle cx="318.9" cy="197.5" r="1.2"/><circle cx="324.4" cy="194.0" r="1.2"/><circle cx="193.1" cy="201.0" r="1.2"/><circle cx="196.8" cy="202.0" r="1.2"/><circle cx="193.1" cy="199.4" r="1.2"/><circle cx="196.8" cy="199.2" r="1.2"/><circle cx="194.9" cy="198.6" r="1.2"/><circle cx="194.9" cy="200.6" r="1.2"/><circle cx="194.9" cy="202.2" r="1.2"/><circle cx="196.8" cy="200.7" r="1.2"/><circle cx="204.2" cy="201.2" r="1.2"/><circle cx="202.3" cy="199.1" r="1.2"/><circle cx="202.3" cy="200.5" r="1.2"/><circle cx="198.7" cy="199.9" r="1.2"/><circle cx="200.5" cy="200.6" r="1.2"/><circle cx="206.0" cy="199.1" r="1.2"/><circle cx="207.9" cy="202.2" r="1.2"/><circle cx="209.8" cy="200.5" r="1.2"/><circle cx="204.2" cy="199.8" r="1.2"/><circle cx="215.3" cy="201.9" r="1.2"/><circle cx="213.4" cy="200.1" r="1.2"/><circle cx="219.0" cy="200.8" r="1.2"/><circle cx="211.6" cy="198.2" r="1.2"/><circle cx="219.0" cy="199.5" r="1.2"/><circle cx="211.6" cy="200.2" r="1.2"/><circle cx="213.4" cy="198.9" r="1.2"/><circle cx="222.7" cy="199.0" r="1.2"/><circle cx="226.4" cy="199.9" r="1.2"/><circle cx="224.5" cy="200.7" r="1.2"/><circle cx="235.7" cy="200.9" r="1.2"/><circle cx="228.2" cy="199.7" r="1.2"/><circle cx="228.2" cy="202.2" r="1.2"/><circle cx="231.9" cy="201.8" r="1.2"/><circle cx="230.1" cy="200.6" r="1.2"/><circle cx="226.4" cy="198.7" r="1.2"/><circle cx="237.5" cy="198.2" r="1.2"/><circle cx="244.9" cy="198.1" r="1.2"/><circle cx="239.3" cy="199.0" r="1.2"/><circle cx="237.5" cy="201.9" r="1.2"/><circle cx="244.9" cy="200.8" r="1.2"/><circle cx="239.3" cy="200.2" r="1.2"/><circle cx="246.8" cy="200.2" r="1.2"/><circle cx="246.8" cy="198.2" r="1.2"/><circle cx="246.8" cy="201.4" r="1.2"/><circle cx="243.1" cy="201.6" r="1.2"/><circle cx="243.1" cy="198.8" r="1.2"/><circle cx="241.2" cy="201.8" r="1.2"/><circle cx="257.9" cy="202.1" r="1.2"/><circle cx="252.3" cy="201.1" r="1.2"/><circle cx="257.9" cy="199.9" r="1.2"/><circle cx="259.7" cy="201.9" r="1.2"/><circle cx="252.3" cy="199.3" r="1.2"/><circle cx="250.4" cy="198.4" r="1.2"/><circle cx="250.4" cy="201.2" r="1.2"/><circle cx="254.2" cy="199.4" r="1.2"/><circle cx="250.4" cy="199.6" r="1.2"/><circle cx="259.7" cy="200.7" r="1.2"/><circle cx="256.0" cy="201.0" r="1.2"/><circle cx="259.7" cy="198.1" r="1.2"/><circle cx="270.8" cy="199.0" r="1.2"/><circle cx="265.2" cy="201.4" r="1.2"/><circle cx="267.1" cy="200.7" r="1.2"/><circle cx="261.6" cy="200.4" r="1.2"/><circle cx="263.4" cy="198.6" r="1.2"/><circle cx="261.6" cy="198.5" r="1.2"/><circle cx="268.9" cy="202.0" r="1.2"/><circle cx="270.8" cy="200.7" r="1.2"/><circle cx="263.4" cy="201.5" r="1.2"/><circle cx="272.6" cy="200.3" r="1.2"/><circle cx="270.8" cy="202.1" r="1.2"/><circle cx="261.6" cy="202.1" r="1.2"/><circle cx="285.6" cy="201.2" r="1.2"/><circle cx="274.5" cy="201.5" r="1.2"/><circle cx="283.8" cy="200.7" r="1.2"/><circle cx="280.1" cy="198.4" r="1.2"/><circle cx="283.8" cy="198.9" r="1.2"/><circle cx="278.2" cy="199.4" r="1.2"/><circle cx="278.2" cy="198.1" r="1.2"/><circle cx="278.2" cy="202.0" r="1.2"/><circle cx="281.9" cy="200.0" r="1.2"/><circle cx="278.2" cy="200.7" r="1.2"/><circle cx="274.5" cy="199.9" r="1.2"/><circle cx="287.4" cy="199.5" r="1.2"/><circle cx="296.7" cy="198.2" r="1.2"/><circle cx="294.9" cy="198.9" r="1.2"/><circle cx="291.1" cy="198.7" r="1.2"/><circle cx="291.1" cy="201.3" r="1.2"/><circle cx="293.0" cy="198.4" r="1.2"/><circle cx="296.7" cy="201.4" r="1.2"/><circle cx="289.3" cy="202.2" r="1.2"/><circle cx="289.3" cy="199.2" r="1.2"/><circle cx="287.4" cy="202.0" r="1.2"/><circle cx="309.6" cy="198.3" r="1.2"/><circle cx="309.6" cy="202.3" r="1.2"/><circle cx="305.9" cy="201.4" r="1.2"/><circle cx="307.8" cy="199.4" r="1.2"/><circle cx="298.6" cy="199.7" r="1.2"/><circle cx="304.1" cy="201.8" r="1.2"/><circle cx="300.4" cy="199.3" r="1.2"/><circle cx="305.9" cy="198.7" r="1.2"/><circle cx="304.1" cy="198.5" r="1.2"/><circle cx="309.6" cy="200.6" r="1.2"/><circle cx="311.5" cy="199.5" r="1.2"/><circle cx="315.2" cy="200.2" r="1.2"/><circle cx="322.6" cy="201.6" r="1.2"/><circle cx="320.8" cy="200.4" r="1.2"/><circle cx="315.2" cy="198.7" r="1.2"/><circle cx="317.1" cy="201.0" r="1.2"/><circle cx="313.4" cy="199.4" r="1.2"/><circle cx="320.8" cy="201.8" r="1.2"/><circle cx="318.9" cy="198.7" r="1.2"/><circle cx="324.4" cy="201.1" r="1.2"/><circle cx="324.4" cy="199.4" r="1.2"/><circle cx="326.3" cy="201.2" r="1.2"/><circle cx="326.3" cy="200.0" r="1.2"/><circle cx="326.3" cy="198.0" r="1.2"/>
</g>
<g fill="none" stroke-width="1.12" stroke-linejoin="round">
<path d="M193.6 142.5L195.4 142.6L197.3 142.7L199.1 142.8L201.0 142.9L202.8 143.0L204.7 143.1L206.5 143.1L208.4 143.2L210.2 143.3L212.1 143.3L213.9 143.4L215.8 143.4L217.6 143.5L219.5 143.5L221.3 143.5L223.2 143.5L225.0 143.5L226.9 143.5L228.7 143.5L230.6 143.5L232.4 143.5L234.3 143.5L236.1 143.4L238.0 143.4L239.8 143.4L241.7 143.3L243.5 143.2L245.4 143.1L247.2 143.0L249.1 142.8L250.9 142.7L252.8 142.4L254.6 142.1L256.5 141.8L258.3 141.5L260.2 141.1L262.0 140.8L263.9 140.5L265.7 140.2L267.6 139.9L269.4 139.6L271.3 139.3L273.1 139.0L275.0 138.7L276.8 138.5L278.7 138.2L280.5 138.0L282.4 137.7L284.2 137.5L286.1 137.2L287.9 137.0L289.8 136.8L291.6 136.5L293.5 136.3L295.3 136.1L297.2 135.9L299.0 135.6L300.9 135.4L302.7 135.2L304.6 135.0L306.4 134.8L308.3 134.6L310.1 134.4L312.0 134.2L313.8 134.0L315.7 133.8L317.5 133.6L319.4 133.4L321.2 133.2L323.1 133.0L324.9 132.8L326.7 132.6" stroke="#F8766D"/>
<path d="M193.6 137.5L195.4 137.5L197.3 137.5L199.1 137.5L201.0 137.5L202.8 137.5L204.7 137.5L206.5 137.5L208.4 137.5L210.2 137.5L212.1 137.5L213.9 137.5L215.8 137.5L217.6 137.5L219.5 137.5L221.3 137.5L223.2 137.4L225.0 137.4L226.9 137.4L228.7 137.4L230.6 137.4L232.4 137.4L234.3 137.4L236.1 137.4L238.0 137.4L239.8 137.4L241.7 137.3L243.5 137.3L245.4 137.3L247.2 137.3L249.1 137.2L250.9 137.1L252.8 137.0L254.6 136.9L256.5 136.7L258.3 136.6L260.2 136.4L262.0 136.3L263.9 136.2L265.7 136.1L267.6 136.0L269.4 136.0L271.3 135.9L273.1 135.8L275.0 135.7L276.8 135.6L278.7 135.5L280.5 135.4L282.4 135.3L284.2 135.2L286.1 135.1L287.9 135.0L289.8 134.9L291.6 134.8L293.5 134.7L295.3 134.6L297.2 134.5L299.0 134.4L300.9 134.2L302.7 134.1L304.6 134.0L306.4 133.9L308.3 133.7L310.1 133.6L312.0 133.5L313.8 133.3L315.7 133.2L317.5 133.0L319.4 132.9L321.2 132.7L323.1 132.6L324.9 132.4L326.7 132.3" stroke="#7CAE00"/>
<path d="M193.6 138.2L195.4 138.2L197.3 138.2L199.1 138.2L201.0 138.2L202.8 138.2L204.7 138.2L206.5 138.2L208.4 138.2L210.2 138.2L212.1 138.2L213.9 138.2L215.8 138.2L217.6 138.2L219.5 138.2L221.3 138.2L223.2 138.2L225.0 138.2L226.9 138.2L228.7 138.2L230.6 138.2L232.4 138.2L234.3 138.1L236.1 138.1L238.0 138.1L239.8 138.1L241.7 138.1L243.5 138.1L245.4 138.1L247.2 138.1L249.1 138.0L250.9 138.0L252.8 137.8L254.6 137.7L256.5 137.5L258.3 137.4L260.2 137.3L262.0 137.1L263.9 137.0L265.7 136.9L267.6 136.8L269.4 136.7L271.3 136.6L273.1 136.4L275.0 136.3L276.8 136.2L278.7 136.1L280.5 136.0L282.4 135.8L284.2 135.7L286.1 135.6L287.9 135.5L289.8 135.3L291.6 135.2L293.5 135.1L295.3 134.9L297.2 134.8L299.0 134.6L300.9 134.5L302.7 134.4L304.6 134.2L306.4 134.1L308.3 133.9L310.1 133.8L312.0 133.6L313.8 133.4L315.7 133.3L317.5 133.1L319.4 133.0L321.2 132.8L323.1 132.6L324.9 132.5L326.7 132.3" stroke="#C77CFF"/>
<path d="M193.6 136.7L195.4 136.7L197.3 136.7L199.1 136.7L201.0 136.7L202.8 136.7L204.7 136.7L206.5 136.7L208.4 136.7L210.2 136.7L212.1 136.7L213.9 136.7L215.8 136.7L217.6 136.7L219.5 136.7L221.3 136.7L223.2 136.7L225.0 136.7L226.9 136.7L228.7 136.7L230.6 136.7L232.4 136.7L234.3 136.7L236.1 136.7L238.0 136.7L239.8 136.7L241.7 136.7L243.5 136.6L245.4 136.6L247.2 136.5L249.1 136.4L250.9 136.3L252.8 136.2L254.6 136.0L256.5 135.8L258.3 135.6L260.2 135.4L262.0 135.2L263.9 135.0L265.7 134.9L267.6 134.7L269.4 134.5L271.3 134.3L273.1 134.2L275.0 134.0L276.8 133.8L278.7 133.6L280.5 133.5L282.4 133.3L284.2 133.1L286.1 133.0L287.9 132.8L289.8 132.6L291.6 132.5L293.5 132.3L295.3 132.2L297.2 132.0L299.0 131.8L300.9 131.7L302.7 131.5L304.6 131.4L306.4 131.2L308.3 131.0L310.1 130.9L312.0 130.7L313.8 130.6L315.7 130.4L317.5 130.3L319.4 130.1L321.2 130.0L323.1 129.8L324.9 129.7L325.9 129.6" stroke="#00BFC4"/>
<path d="M193.6 109.4L195.4 109.5L197.3 109.6L199.1 109.7L201.0 109.8L202.8 109.9L204.7 110.0L206.5 110.1L208.4 110.2L210.2 110.2L212.1 110.3L213.9 110.4L215.8 110.4L217.6 110.4L219.5 110.4L221.3 110.5L223.2 110.5L225.0 110.5L226.9 110.5L228.7 110.6L230.6 110.6L232.4 110.6L234.3 110.6L236.1 110.6L238.0 110.6L239.8 110.6L241.7 110.5L243.5 110.4L245.4 110.2L247.2 110.1L249.1 109.9L250.9 109.6L252.8 109.4L254.6 109.0L256.5 108.6L258.3 108.3L260.2 107.9L262.0 107.5L263.9 107.1L265.7 106.7L267.6 106.3L269.4 105.8L271.3 105.4L273.1 104.9L275.0 104.5L276.8 104.0L278.7 103.6L280.5 103.1L282.4 102.7L284.2 102.2L286.1 101.8L287.9 101.3L289.8 100.9L291.6 100.5L293.5 100.1L295.3 99.7L297.2 99.3L299.0 98.9L300.9 98.5L302.7 98.1L304.6 97.7L306.4 97.3L308.3 96.9L310.1 96.5L312.0 96.1L313.8 95.7L315.7 95.4L317.5 95.0L319.4 94.6L321.2 94.2L323.1 93.9L324.9 93.5L325.9 93.3" stroke="#F8766D" stroke-dasharray="1.9 1.65"/>
<path d="M193.6 98.8L195.4 98.8L197.3 98.8L199.1 98.8L201.0 98.7L202.8 98.7L204.7 98.7L206.5 98.7L208.4 98.7L210.2 98.7L212.1 98.6L213.9 98.6L215.8 98.6L217.6 98.6L219.5 98.6L221.3 98.5L223.2 98.5L225.0 98.5L226.9 98.5L228.7 98.4L230.6 98.4L232.4 98.4L234.3 98.3L236.1 98.3L238.0 98.3L239.8 98.2L241.7 98.2L243.5 98.2L245.4 98.1L247.2 98.1L249.1 98.0L250.9 98.0L252.8 97.9L254.6 97.8L256.5 97.8L258.3 97.7L260.2 97.6L262.0 97.6L263.9 97.5L265.7 97.5L267.6 97.4L269.4 97.4L271.3 97.3L273.1 97.3L275.0 97.2L276.8 97.2L278.7 97.1L280.5 97.1L282.4 97.0L284.2 97.0L286.1 96.9L287.9 96.9L289.8 96.8L291.6 96.8L293.5 96.7L295.3 96.6L297.2 96.6L299.0 96.5L300.9 96.4L302.7 96.4L304.6 96.3L306.4 96.2L308.3 96.1L310.1 96.1L312.0 96.0L313.8 95.9L315.7 95.8L317.5 95.7L319.4 95.6L321.2 95.6L323.1 95.5L324.9 95.4L326.7 95.3" stroke="#7CAE00" stroke-dasharray="1.9 1.65"/>
<path d="M193.6 92.3L195.4 92.4L197.3 92.4L199.1 92.4L201.0 92.5L202.8 92.5L204.7 92.6L206.5 92.6L208.4 92.6L210.2 92.7L212.1 92.7L213.9 92.7L215.8 92.8L217.6 92.8L219.5 92.8L221.3 92.8L223.2 92.8L225.0 92.8L226.9 92.8L228.7 92.8L230.6 92.8L232.4 92.8L234.3 92.8L236.1 92.8L238.0 92.8L239.8 92.8L241.7 92.7L243.5 92.5L245.4 92.3L247.2 92.1L249.1 91.9L250.9 91.6L252.8 91.4L254.6 91.2L256.5 90.9L258.3 90.7L260.2 90.4L262.0 90.1L263.9 89.9L265.7 89.6L267.6 89.3L269.4 89.0L271.3 88.7L273.1 88.4L275.0 88.1L276.8 87.8L278.7 87.5L280.5 87.2L282.4 86.8L284.2 86.5L286.1 86.2L287.9 85.9L289.8 85.6L291.6 85.3L293.5 85.0L295.3 84.7L297.2 84.3L299.0 84.0L300.9 83.7L302.7 83.4L304.6 83.1L306.4 82.8L308.3 82.5L310.1 82.1L312.0 81.8L313.8 81.5L315.7 81.2L317.5 80.9L319.4 80.5L321.2 80.2L323.1 79.9L324.9 79.6L325.9 79.4" stroke="#00BFC4" stroke-dasharray="1.9 1.65"/>
<path d="M193.6 85.8L195.4 85.8L197.3 85.7L199.1 85.7L201.0 85.7L202.8 85.7L204.7 85.6L206.5 85.6L208.4 85.6L210.2 85.6L212.1 85.6L213.9 85.6L215.8 85.6L217.6 85.5L219.5 85.5L221.3 85.5L223.2 85.5L225.0 85.5L226.9 85.5L228.7 85.5L230.6 85.5L232.4 85.5L234.3 85.5L236.1 85.5L238.0 85.5L239.8 85.5L241.7 85.5L243.5 85.5L245.4 85.5L247.2 85.5L249.1 85.5L250.9 85.6L252.8 85.6L254.6 85.7L256.5 85.8L258.3 85.8L260.2 85.9L262.0 85.9L263.9 86.0L265.7 86.0L267.6 86.0L269.4 86.1L271.3 86.1L273.1 86.2L275.0 86.2L276.8 86.2L278.7 86.3L280.5 86.3L282.4 86.3L284.2 86.4L286.1 86.4L287.9 86.4L289.8 86.5L291.6 86.5L293.5 86.6L295.3 86.6L297.2 86.7L299.0 86.7L300.9 86.8L302.7 86.8L304.6 86.9L306.4 86.9L308.3 87.0L310.1 87.0L312.0 87.1L313.8 87.1L315.7 87.2L317.5 87.2L319.4 87.3L321.2 87.3L323.1 87.4L324.9 87.4L326.7 87.5" stroke="#C77CFF" stroke-dasharray="1.9 1.65"/>
</g>
<rect x="186.5" y="17.4" width="147.89999999999998" height="193.0" fill="none" stroke="#333" stroke-width="0.45"/>
<rect x="186.5" y="5.4" width="147.89999999999998" height="11.999999999999998" fill="#d9d9d9" stroke="#333" stroke-width="0.45"/>
<text x="260.45" y="14.15" font-size="7.6" font-weight="bold" text-anchor="middle" fill="#1a1a1a">AMBERIEU</text>
<text x="173.90" y="175.30" font-size="7.6" textLength="6.7" lengthAdjust="spacingAndGlyphs" fill="#4d4d4d">25</text>
<text x="173.90" y="127.10" font-size="7.6" textLength="6.7" lengthAdjust="spacingAndGlyphs" fill="#4d4d4d">50</text>
<text x="173.90" y="78.90" font-size="7.6" textLength="6.7" lengthAdjust="spacingAndGlyphs" fill="#4d4d4d">75</text>
<text x="173.90" y="30.70" font-size="7.6" textLength="9.5" lengthAdjust="spacingAndGlyphs" fill="#4d4d4d">100</text>
<text x="211.60" y="218.95" font-size="7.6" text-anchor="middle" textLength="15.2" lengthAdjust="spacingAndGlyphs" fill="#4d4d4d">1960</text>
<text x="248.60" y="218.95" font-size="7.6" text-anchor="middle" textLength="15.2" lengthAdjust="spacingAndGlyphs" fill="#4d4d4d">1980</text>
<text x="285.60" y="218.95" font-size="7.6" text-anchor="middle" textLength="15.2" lengthAdjust="spacingAndGlyphs" fill="#4d4d4d">2000</text>
<text x="322.60" y="218.95" font-size="7.6" text-anchor="middle" textLength="15.2" lengthAdjust="spacingAndGlyphs" fill="#4d4d4d">2020</text>
<path d="M184.6 172.6H186.5M184.6 124.4H186.5M184.6 76.2H186.5M184.6 28.0H186.5M211.60 210.4V212.3M248.60 210.4V212.3M285.60 210.4V212.3M322.60 210.4V212.3" stroke="#333" stroke-width="0.75" fill="none"/>
</g>
<g>
<path d="M347.3 181.65H494.6M347.3 141.95H494.6M347.3 102.25H494.6M347.3 62.55H494.6M347.3 22.85H494.6M354.05 17.4V210.4M390.75 17.4V210.4M427.45 17.4V210.4M464.15 17.4V210.4" stroke="#ebebeb" stroke-width="0.45" fill="none"/>
<path d="M347.3 201.5H494.6M347.3 161.8H494.6M347.3 122.1H494.6M347.3 82.4H494.6M347.3 42.7H494.6M372.40 17.4V210.4M409.10 17.4V210.4M445.80 17.4V210.4M482.50 17.4V210.4" stroke="#ebebeb" stroke-width="0.68" fill="none"/>
<g fill="none" stroke="#000" stroke-opacity="0.92" stroke-width="0.6">
<circle cx="383.4" cy="26.0" r="1.2"/><circle cx="381.6" cy="91.4" r="1.2"/><circle cx="410.9" cy="91.4" r="1.2"/><circle cx="423.8" cy="86.4" r="1.2"/><circle cx="427.4" cy="96.6" r="1.2"/><circle cx="433.0" cy="91.4" r="1.2"/><circle cx="433.0" cy="114.3" r="1.2"/><circle cx="440.3" cy="112.4" r="1.2"/><circle cx="416.4" cy="128.4" r="1.2"/><circle cx="410.9" cy="133.3" r="1.2"/><circle cx="365.1" cy="136.4" r="1.2"/><circle cx="394.4" cy="137.3" r="1.2"/><circle cx="407.3" cy="139.4" r="1.2"/><circle cx="410.9" cy="142.0" r="1.2"/><circle cx="370.6" cy="146.0" r="1.2"/><circle cx="458.6" cy="136.4" r="1.2"/><circle cx="442.1" cy="140.3" r="1.2"/><circle cx="444.0" cy="141.3" r="1.2"/><circle cx="447.6" cy="145.9" r="1.2"/><circle cx="458.6" cy="145.9" r="1.2"/><circle cx="469.7" cy="148.0" r="1.2"/><circle cx="477.0" cy="143.3" r="1.2"/><circle cx="447.6" cy="153.8" r="1.2"/><circle cx="431.1" cy="157.0" r="1.2"/><circle cx="421.9" cy="159.1" r="1.2"/><circle cx="445.8" cy="159.4" r="1.2"/><circle cx="466.0" cy="159.8" r="1.2"/><circle cx="471.5" cy="162.0" r="1.2"/><circle cx="357.7" cy="154.4" r="1.2"/><circle cx="368.7" cy="154.4" r="1.2"/><circle cx="396.3" cy="153.5" r="1.2"/><circle cx="405.4" cy="151.2" r="1.2"/><circle cx="403.6" cy="154.7" r="1.2"/><circle cx="412.8" cy="155.2" r="1.2"/><circle cx="354.0" cy="159.7" r="1.2"/><circle cx="372.4" cy="158.2" r="1.2"/><circle cx="385.2" cy="157.4" r="1.2"/><circle cx="412.8" cy="159.2" r="1.2"/><circle cx="357.7" cy="162.7" r="1.2"/><circle cx="409.1" cy="163.0" r="1.2"/><circle cx="412.8" cy="165.3" r="1.2"/><circle cx="416.4" cy="163.0" r="1.2"/><circle cx="449.5" cy="163.6" r="1.2"/><circle cx="444.0" cy="167.4" r="1.2"/><circle cx="357.7" cy="175.5" r="1.2"/><circle cx="363.2" cy="175.0" r="1.2"/><circle cx="377.9" cy="172.2" r="1.2"/><circle cx="392.6" cy="168.8" r="1.2"/><circle cx="399.9" cy="171.0" r="1.2"/><circle cx="388.9" cy="176.0" r="1.2"/><circle cx="401.8" cy="177.2" r="1.2"/><circle cx="405.4" cy="176.0" r="1.2"/><circle cx="379.7" cy="178.9" r="1.2"/><circle cx="383.4" cy="179.4" r="1.2"/><circle cx="398.1" cy="180.6" r="1.2"/><circle cx="409.1" cy="179.4" r="1.2"/><circle cx="412.8" cy="178.4" r="1.2"/><circle cx="416.4" cy="178.4" r="1.2"/><circle cx="420.1" cy="180.1" r="1.2"/><circle cx="365.1" cy="182.7" r="1.2"/><circle cx="374.2" cy="181.7" r="1.2"/><circle cx="372.4" cy="183.9" r="1.2"/><circle cx="383.4" cy="183.4" r="1.2"/><circle cx="385.2" cy="184.7" r="1.2"/><circle cx="409.1" cy="183.1" r="1.2"/><circle cx="421.9" cy="184.4" r="1.2"/><circle cx="355.9" cy="186.8" r="1.2"/><circle cx="357.7" cy="187.3" r="1.2"/><circle cx="372.4" cy="186.1" r="1.2"/><circle cx="374.2" cy="186.8" r="1.2"/><circle cx="376.1" cy="187.6" r="1.2"/><circle cx="372.4" cy="188.6" r="1.2"/><circle cx="385.2" cy="186.4" r="1.2"/><circle cx="385.2" cy="188.9" r="1.2"/><circle cx="383.4" cy="189.8" r="1.2"/><circle cx="396.3" cy="186.1" r="1.2"/><circle cx="398.1" cy="188.1" r="1.2"/><circle cx="407.3" cy="186.1" r="1.2"/><circle cx="407.3" cy="187.3" r="1.2"/><circle cx="410.9" cy="188.4" r="1.2"/><circle cx="409.1" cy="189.8" r="1.2"/><circle cx="420.1" cy="187.3" r="1.2"/><circle cx="421.9" cy="186.8" r="1.2"/><circle cx="354.0" cy="191.9" r="1.2"/><circle cx="361.4" cy="193.4" r="1.2"/><circle cx="363.2" cy="194.3" r="1.2"/><circle cx="368.7" cy="193.4" r="1.2"/><circle cx="370.6" cy="192.3" r="1.2"/><circle cx="370.6" cy="194.8" r="1.2"/><circle cx="376.1" cy="193.1" r="1.2"/><circle cx="390.8" cy="191.9" r="1.2"/><circle cx="396.3" cy="193.9" r="1.2"/><circle cx="398.1" cy="194.8" r="1.2"/><circle cx="407.3" cy="193.1" r="1.2"/><circle cx="421.9" cy="194.3" r="1.2"/><circle cx="365.1" cy="198.1" r="1.2"/><circle cx="357.7" cy="199.0" r="1.2"/><circle cx="355.9" cy="200.1" r="1.2"/><circle cx="372.4" cy="196.5" r="1.2"/><circle cx="374.2" cy="197.8" r="1.2"/><circle cx="376.1" cy="198.1" r="1.2"/><circle cx="377.9" cy="197.8" r="1.2"/><circle cx="379.7" cy="196.8" r="1.2"/><circle cx="381.6" cy="197.8" r="1.2"/><circle cx="383.4" cy="196.8" r="1.2"/><circle cx="383.4" cy="199.0" r="1.2"/><circle cx="387.1" cy="197.3" r="1.2"/><circle cx="388.9" cy="198.1" r="1.2"/><circle cx="394.4" cy="198.1" r="1.2"/><circle cx="398.1" cy="197.3" r="1.2"/><circle cx="399.9" cy="198.1" r="1.2"/><circle cx="401.8" cy="196.8" r="1.2"/><circle cx="401.8" cy="199.8" r="1.2"/><circle cx="403.6" cy="197.8" r="1.2"/><circle cx="407.3" cy="197.8" r="1.2"/><circle cx="407.3" cy="199.8" r="1.2"/><circle cx="409.1" cy="198.5" r="1.2"/><circle cx="410.9" cy="199.0" r="1.2"/><circle cx="412.8" cy="198.5" r="1.2"/><circle cx="414.6" cy="197.8" r="1.2"/><circle cx="420.1" cy="197.3" r="1.2"/><circle cx="421.9" cy="197.8" r="1.2"/><circle cx="374.2" cy="201.5" r="1.2"/><circle cx="405.4" cy="201.1" r="1.2"/><circle cx="407.3" cy="201.5" r="1.2"/><circle cx="420.1" cy="201.5" r="1.2"/><circle cx="440.3" cy="168.5" r="1.2"/><circle cx="445.8" cy="170.0" r="1.2"/><circle cx="449.5" cy="172.2" r="1.2"/><circle cx="453.1" cy="169.3" r="1.2"/><circle cx="473.3" cy="171.0" r="1.2"/><circle cx="482.5" cy="172.2" r="1.2"/><circle cx="488.0" cy="170.0" r="1.2"/><circle cx="431.1" cy="176.0" r="1.2"/><circle cx="445.8" cy="178.4" r="1.2"/><circle cx="445.8" cy="180.1" r="1.2"/><circle cx="462.3" cy="176.7" r="1.2"/><circle cx="473.3" cy="176.0" r="1.2"/><circle cx="480.7" cy="177.7" r="1.2"/><circle cx="482.5" cy="177.2" r="1.2"/><circle cx="488.0" cy="179.4" r="1.2"/><circle cx="420.1" cy="180.1" r="1.2"/><circle cx="421.9" cy="184.2" r="1.2"/><circle cx="442.1" cy="183.4" r="1.2"/><circle cx="449.5" cy="182.2" r="1.2"/><circle cx="464.1" cy="182.2" r="1.2"/><circle cx="466.0" cy="181.1" r="1.2"/><circle cx="467.8" cy="181.1" r="1.2"/><circle cx="471.5" cy="181.1" r="1.2"/><circle cx="484.3" cy="182.2" r="1.2"/><circle cx="484.3" cy="184.2" r="1.2"/><circle cx="421.9" cy="186.4" r="1.2"/><circle cx="449.5" cy="186.1" r="1.2"/><circle cx="456.8" cy="184.7" r="1.2"/><circle cx="456.8" cy="187.3" r="1.2"/><circle cx="462.3" cy="186.1" r="1.2"/><circle cx="460.5" cy="188.1" r="1.2"/><circle cx="451.3" cy="188.4" r="1.2"/><circle cx="469.7" cy="185.1" r="1.2"/><circle cx="471.5" cy="185.6" r="1.2"/><circle cx="467.8" cy="188.9" r="1.2"/><circle cx="477.0" cy="186.1" r="1.2"/><circle cx="478.8" cy="185.1" r="1.2"/><circle cx="478.8" cy="186.8" r="1.2"/><circle cx="480.7" cy="187.8" r="1.2"/><circle cx="482.5" cy="188.1" r="1.2"/><circle cx="488.0" cy="188.9" r="1.2"/><circle cx="475.2" cy="187.3" r="1.2"/><circle cx="429.3" cy="188.9" r="1.2"/><circle cx="431.1" cy="189.8" r="1.2"/><circle cx="431.1" cy="191.1" r="1.2"/><circle cx="442.1" cy="189.4" r="1.2"/><circle cx="449.5" cy="191.4" r="1.2"/><circle cx="464.1" cy="190.6" r="1.2"/><circle cx="456.8" cy="190.6" r="1.2"/><circle cx="477.0" cy="191.1" r="1.2"/><circle cx="484.3" cy="192.3" r="1.2"/><circle cx="488.0" cy="193.1" r="1.2"/><circle cx="421.9" cy="193.1" r="1.2"/><circle cx="423.8" cy="193.4" r="1.2"/><circle cx="425.6" cy="194.5" r="1.2"/><circle cx="429.3" cy="193.9" r="1.2"/><circle cx="434.8" cy="193.1" r="1.2"/><circle cx="449.5" cy="193.1" r="1.2"/><circle cx="449.5" cy="194.5" r="1.2"/><circle cx="453.1" cy="192.8" r="1.2"/><circle cx="456.8" cy="193.9" r="1.2"/><circle cx="464.1" cy="193.9" r="1.2"/><circle cx="466.0" cy="194.8" r="1.2"/><circle cx="469.7" cy="194.8" r="1.2"/><circle cx="471.5" cy="193.9" r="1.2"/><circle cx="480.7" cy="194.5" r="1.2"/><circle cx="482.5" cy="195.6" r="1.2"/><circle cx="420.1" cy="196.5" r="1.2"/><circle cx="433.0" cy="196.8" r="1.2"/><circle cx="440.3" cy="196.8" r="1.2"/><circle cx="464.1" cy="196.8" r="1.2"/><circle cx="469.7" cy="196.8" r="1.2"/><circle cx="478.8" cy="196.8" r="1.2"/><circle cx="484.3" cy="196.5" r="1.2"/><circle cx="488.0" cy="196.8" r="1.2"/><circle cx="421.9" cy="198.5" r="1.2"/><circle cx="423.8" cy="199.0" r="1.2"/><circle cx="427.4" cy="199.0" r="1.2"/><circle cx="433.0" cy="201.5" r="1.2"/><circle cx="438.5" cy="199.0" r="1.2"/><circle cx="440.3" cy="198.5" r="1.2"/><circle cx="442.1" cy="199.8" r="1.2"/><circle cx="444.0" cy="199.0" r="1.2"/><circle cx="445.8" cy="199.0" r="1.2"/><circle cx="445.8" cy="200.1" r="1.2"/><circle cx="442.1" cy="201.1" r="1.2"/><circle cx="460.5" cy="201.5" r="1.2"/><circle cx="466.0" cy="200.1" r="1.2"/><circle cx="467.8" cy="201.1" r="1.2"/><circle cx="469.7" cy="198.1" r="1.2"/><circle cx="480.7" cy="199.0" r="1.2"/><circle cx="482.5" cy="198.1" r="1.2"/><circle cx="484.3" cy="198.5" r="1.2"/><circle cx="480.7" cy="201.1" r="1.2"/><circle cx="482.5" cy="201.5" r="1.2"/><circle cx="420.1" cy="201.1" r="1.2"/>
</g>
<g fill="none" stroke-width="1.12" stroke-linejoin="round">
<path d="M353.8 166.1L355.7 166.2L357.5 166.2L359.4 166.3L361.2 166.3L363.1 166.3L364.9 166.4L366.8 166.4L368.6 166.4L370.5 166.4L372.3 166.4L374.2 166.4L376.0 166.4L377.9 166.3L379.7 166.3L381.6 166.2L383.4 166.1L385.3 166.1L387.1 166.0L389.0 165.9L390.8 165.8L392.7 165.7L394.5 165.6L396.4 165.5L398.2 165.3L400.1 165.2L401.9 165.0L403.8 164.9L405.6 164.7L407.5 164.5L409.3 164.3L411.2 164.1L413.0 164.0L414.9 163.8L416.7 163.6L418.6 163.4L420.4 163.2L422.3 163.0L424.1 162.8L426.0 162.6L427.8 162.4L429.7 162.2L431.5 162.0L433.4 161.8L435.2 161.6L437.1 161.4L438.9 161.2L440.8 161.0L442.6 160.7L444.5 160.5L446.3 160.3L448.2 160.1L450.0 159.8L451.9 159.6L453.7 159.3L455.6 159.1L457.4 158.8L459.3 158.6L461.1 158.3L463.0 158.1L464.8 157.8L466.7 157.5L468.5 157.3L470.4 157.0L472.2 156.8L474.1 156.6L475.9 156.3L477.8 156.1L479.6 155.8L481.5 155.6L483.3 155.3L485.2 155.1L485.9 155.0" stroke="#F8766D"/>
<path d="M353.8 164.2L355.7 164.1L357.5 163.9L359.4 163.8L361.2 163.6L363.1 163.4L364.9 163.3L366.8 163.1L368.6 162.9L370.5 162.8L372.3 162.6L374.2 162.4L376.0 162.2L377.9 162.0L379.7 161.8L381.6 161.6L383.4 161.4L385.3 161.3L387.1 161.1L389.0 160.9L390.8 160.6L392.7 160.4L394.5 160.3L396.4 160.2L398.2 160.1L400.1 160.1L401.9 160.1L403.8 160.1L405.6 160.2L407.5 160.2L409.3 160.3L411.2 160.3L413.0 160.6L414.9 161.0L416.7 161.5L418.6 161.9L420.4 162.3L422.3 162.5L424.1 162.7L426.0 162.9L427.8 163.0L429.7 163.2L431.5 163.3L433.4 163.4L435.2 163.6L437.1 163.8L438.9 164.0L440.8 164.2L442.6 164.4L444.5 164.6L446.3 164.8L448.2 165.0L450.0 165.2L451.9 165.3L453.7 165.5L455.6 165.7L457.4 165.8L459.3 165.9L461.1 166.1L463.0 166.2L464.8 166.4L466.7 166.5L468.5 166.6L470.4 166.7L472.2 166.8L474.1 166.9L475.9 167.1L477.8 167.2L479.6 167.3L481.5 167.4L483.3 167.5L485.2 167.6L487.0 167.6L488.2 167.7" stroke="#7CAE00"/>
<path d="M353.8 162.3L355.7 162.2L357.5 162.0L359.4 161.9L361.2 161.7L363.1 161.6L364.9 161.4L366.8 161.2L368.6 161.1L370.5 160.9L372.3 160.7L374.2 160.5L376.0 160.2L377.9 160.0L379.7 159.7L381.6 159.5L383.4 159.3L385.3 159.2L387.1 159.0L389.0 158.9L390.8 158.8L392.7 158.7L394.5 158.6L396.4 158.5L398.2 158.5L400.1 158.5L401.9 158.5L403.8 158.6L405.6 158.7L407.5 158.7L409.3 158.8L411.2 158.9L413.0 159.1L414.9 159.3L416.7 159.6L418.6 159.9L420.4 160.2L422.3 160.5L424.1 160.7L426.0 161.0L427.8 161.3L429.7 161.6L431.5 161.9L433.4 162.1L435.2 162.4L437.1 162.7L438.9 162.9L440.8 163.2L442.6 163.4L444.5 163.7L446.3 163.9L448.2 164.1L450.0 164.4L451.9 164.6L453.7 164.8L455.6 165.1L457.4 165.3L459.3 165.5L461.1 165.7L463.0 165.9L464.8 166.1L466.7 166.3L468.5 166.5L470.4 166.7L472.2 166.9L474.1 167.1L475.9 167.2L477.8 167.4L479.6 167.6L481.5 167.8L483.3 167.9L485.2 168.1L486.7 168.2" stroke="#00BFC4"/>
<path d="M353.8 161.5L355.7 161.4L357.5 161.3L359.4 161.2L361.2 161.1L363.1 161.0L364.9 160.9L366.8 160.8L368.6 160.7L370.5 160.5L372.3 160.4L374.2 160.3L376.0 160.2L377.9 160.1L379.7 160.0L381.6 159.9L383.4 159.8L385.3 159.7L387.1 159.6L389.0 159.5L390.8 159.4L392.7 159.3L394.5 159.3L396.4 159.2L398.2 159.2L400.1 159.2L401.9 159.3L403.8 159.4L405.6 159.5L407.5 159.7L409.3 159.9L411.2 160.1L413.0 160.4L414.9 160.8L416.7 161.3L418.6 161.7L420.4 162.1L422.3 162.4L424.1 162.6L426.0 162.8L427.8 163.0L429.7 163.2L431.5 163.4L433.4 163.7L435.2 163.9L437.1 164.2L438.9 164.5L440.8 164.8L442.6 165.1L444.5 165.5L446.3 165.8L448.2 166.1L450.0 166.4L451.9 166.6L453.7 166.9L455.6 167.1L457.4 167.3L459.3 167.5L461.1 167.7L463.0 167.9L464.8 168.1L466.7 168.3L468.5 168.5L470.4 168.7L472.2 168.9L474.1 169.1L475.9 169.2L477.8 169.4L479.6 169.6L481.5 169.8L483.3 169.9L485.2 170.1L486.7 170.2" stroke="#C77CFF"/>
<path d="M353.8 133.9L355.7 134.0L357.5 134.1L359.4 134.1L361.2 134.2L363.1 134.2L364.9 134.3L366.8 134.3L368.6 134.3L370.5 134.3L372.3 134.4L374.2 134.4L376.0 134.4L377.9 134.4L379.7 134.4L381.6 134.4L383.4 134.4L385.3 134.4L387.1 134.4L389.0 134.4L390.8 134.3L392.7 134.2L394.5 134.2L396.4 134.1L398.2 134.0L400.1 133.9L401.9 133.8L403.8 133.6L405.6 133.4L407.5 133.2L409.3 133.0L411.2 132.7L413.0 132.4L414.9 132.1L416.7 131.7L418.6 131.3L420.4 130.9L422.3 130.5L424.1 130.1L426.0 129.6L427.8 129.1L429.7 128.6L431.5 128.1L433.4 127.6L435.2 127.2L437.1 126.8L438.9 126.4L440.8 126.0L442.6 125.6L444.5 125.3L446.3 124.9L448.2 124.5L450.0 124.2L451.9 123.8L453.7 123.4L455.6 123.0L457.4 122.6L459.3 122.3L461.1 121.9L463.0 121.5L464.8 121.1L466.7 120.8L468.5 120.4L470.4 120.0L472.2 119.6L474.1 119.3L475.9 118.9L477.8 118.5L479.6 118.2L481.5 117.8L483.3 117.4L485.2 117.0L485.9 116.9" stroke="#F8766D" stroke-dasharray="1.9 1.65"/>
<path d="M353.8 129.5L355.7 129.2L357.5 128.9L359.4 128.7L361.2 128.4L363.1 128.1L364.9 127.8L366.8 127.5L368.6 127.2L370.5 126.9L372.3 126.6L374.2 126.3L376.0 126.0L377.9 125.6L379.7 125.3L381.6 125.0L383.4 124.7L385.3 124.5L387.1 124.2L389.0 123.9L390.8 123.6L392.7 123.4L394.5 123.2L396.4 123.1L398.2 123.0L400.1 123.0L401.9 123.2L403.8 123.5L405.6 123.8L407.5 124.1L409.3 124.4L411.2 124.9L413.0 125.5L414.9 126.2L416.7 126.9L418.6 127.9L420.4 128.8L422.3 129.6L424.1 130.3L426.0 131.0L427.8 131.7L429.7 132.3L431.5 132.9L433.4 133.5L435.2 134.0L437.1 134.5L438.9 134.9L440.8 135.4L442.6 135.8L444.5 136.2L446.3 136.6L448.2 137.0L450.0 137.3L451.9 137.7L453.7 138.1L455.6 138.4L457.4 138.8L459.3 139.1L461.1 139.5L463.0 139.8L464.8 140.1L466.7 140.4L468.5 140.7L470.4 140.9L472.2 141.2L474.1 141.5L475.9 141.7L477.8 142.0L479.6 142.2L481.5 142.4L483.3 142.7L485.2 142.9L487.0 143.1L488.2 143.2" stroke="#7CAE00" stroke-dasharray="1.9 1.65"/>
<path d="M353.8 125.0L355.7 124.7L357.5 124.4L359.4 124.2L361.2 123.9L363.1 123.6L364.9 123.4L366.8 123.1L368.6 122.9L370.5 122.6L372.3 122.3L374.2 122.1L376.0 121.8L377.9 121.6L379.7 121.3L381.6 121.1L383.4 120.9L385.3 120.7L387.1 120.5L389.0 120.3L390.8 120.1L392.7 120.0L394.5 119.8L396.4 119.7L398.2 119.7L400.1 119.7L401.9 119.8L403.8 120.0L405.6 120.2L407.5 120.4L409.3 120.7L411.2 121.1L413.0 121.6L414.9 122.1L416.7 122.7L418.6 123.4L420.4 124.1L422.3 124.7L424.1 125.3L426.0 125.9L427.8 126.5L429.7 127.1L431.5 127.7L433.4 128.2L435.2 128.8L437.1 129.4L438.9 129.9L440.8 130.5L442.6 131.0L444.5 131.6L446.3 132.1L448.2 132.6L450.0 133.1L451.9 133.6L453.7 134.1L455.6 134.6L457.4 135.1L459.3 135.6L461.1 136.0L463.0 136.5L464.8 136.9L466.7 137.4L468.5 137.8L470.4 138.2L472.2 138.6L474.1 139.1L475.9 139.5L477.8 139.9L479.6 140.3L481.5 140.6L483.3 141.0L485.2 141.4L486.7 141.7" stroke="#00BFC4" stroke-dasharray="1.9 1.65"/>
<path d="M353.8 110.4L355.7 110.1L357.5 109.8L359.4 109.5L361.2 109.3L363.1 109.0L364.9 108.7L366.8 108.4L368.6 108.2L370.5 107.9L372.3 107.6L374.2 107.4L376.0 107.1L377.9 106.8L379.7 106.5L381.6 106.3L383.4 106.0L385.3 105.9L387.1 105.7L389.0 105.6L390.8 105.4L392.7 105.3L394.5 105.2L396.4 105.1L398.2 105.1L400.1 105.2L401.9 105.4L403.8 105.7L405.6 106.1L407.5 106.6L409.3 107.2L411.2 108.0L413.0 109.0L414.9 109.9L416.7 110.9L418.6 111.9L420.4 112.9L422.3 113.9L424.1 114.9L426.0 115.9L427.8 116.9L429.7 117.9L431.5 118.8L433.4 119.8L435.2 120.7L437.1 121.6L438.9 122.4L440.8 123.3L442.6 124.1L444.5 124.9L446.3 125.7L448.2 126.5L450.0 127.3L451.9 128.1L453.7 128.9L455.6 129.6L457.4 130.4L459.3 131.2L461.1 131.9L463.0 132.7L464.8 133.3L466.7 134.0L468.5 134.7L470.4 135.3L472.2 135.9L474.1 136.5L475.9 137.1L477.8 137.7L479.6 138.2L481.5 138.8L483.3 139.3L485.2 139.8L486.7 140.2" stroke="#C77CFF" stroke-dasharray="1.9 1.65"/>
</g>
<rect x="347.3" y="17.4" width="147.3" height="193.0" fill="none" stroke="#333" stroke-width="0.45"/>
<rect x="347.3" y="5.4" width="147.3" height="11.999999999999998" fill="#d9d9d9" stroke="#333" stroke-width="0.45"/>
<text x="420.95000000000005" y="14.15" font-size="7.6" font-weight="bold" text-anchor="middle" fill="#1a1a1a">PARIS-MONTSOURIS</text>
<text x="337.50" y="204.20" font-size="7.6" textLength="6.7" lengthAdjust="spacingAndGlyphs" fill="#4d4d4d">10</text>
<text x="337.50" y="164.50" font-size="7.6" textLength="6.7" lengthAdjust="spacingAndGlyphs" fill="#4d4d4d">20</text>
<text x="337.50" y="124.80" font-size="7.6" textLength="6.7" lengthAdjust="spacingAndGlyphs" fill="#4d4d4d">30</text>
<text x="337.50" y="85.10" font-size="7.6" textLength="6.7" lengthAdjust="spacingAndGlyphs" fill="#4d4d4d">40</text>
<text x="337.50" y="45.40" font-size="7.6" textLength="6.7" lengthAdjust="spacingAndGlyphs" fill="#4d4d4d">50</text>
<text x="372.40" y="218.95" font-size="7.6" text-anchor="middle" textLength="15.2" lengthAdjust="spacingAndGlyphs" fill="#4d4d4d">1960</text>
<text x="409.10" y="218.95" font-size="7.6" text-anchor="middle" textLength="15.2" lengthAdjust="spacingAndGlyphs" fill="#4d4d4d">1980</text>
<text x="445.80" y="218.95" font-size="7.6" text-anchor="middle" textLength="15.2" lengthAdjust="spacingAndGlyphs" fill="#4d4d4d">2000</text>
<text x="482.50" y="218.95" font-size="7.6" text-anchor="middle" textLength="15.2" lengthAdjust="spacingAndGlyphs" fill="#4d4d4d">2020</text>
<path d="M345.40000000000003 201.5H347.3M345.40000000000003 161.8H347.3M345.40000000000003 122.1H347.3M345.40000000000003 82.4H347.3M345.40000000000003 42.7H347.3M372.40 210.4V212.3M409.10 210.4V212.3M445.80 210.4V212.3M482.50 210.4V212.3" stroke="#333" stroke-width="0.75" fill="none"/>
</g>
<text transform="translate(10.5,114.2) rotate(-90)" font-size="7.2" text-anchor="middle" fill="#000">Return level (mm/day)</text>
<path d="M171.8 243.2H180.10000000000002" stroke="#F8766D" stroke-width="1.12" fill="none"/>
<text x="184.6" y="245.85" font-size="7.3" textLength="10.2" lengthAdjust="spacingAndGlyphs" fill="#000">GA</text>
<path d="M198.8 243.2H207.10000000000002" stroke="#7CAE00" stroke-width="1.12" fill="none"/>
<text x="211.8" y="245.85" font-size="7.3" textLength="10.6" lengthAdjust="spacingAndGlyphs" fill="#000">GG</text>
<path d="M226.8 243.2H235.10000000000002" stroke="#00BFC4" stroke-width="1.12" fill="none"/>
<text x="239.8" y="245.85" font-size="7.3" textLength="19.3" lengthAdjust="spacingAndGlyphs" fill="#000">EGPD</text>
<path d="M263.8 243.2H272.1" stroke="#C77CFF" stroke-width="1.12" fill="none"/>
<text x="276.8" y="245.85" font-size="7.3" textLength="14.8" lengthAdjust="spacingAndGlyphs" fill="#000">GEV</text>
<path d="M308.8 243.2H316.8" stroke="#333" stroke-width="1.12" fill="none"/>
<text x="320.8" y="245.85" font-size="7.3" textLength="4.2" lengthAdjust="spacingAndGlyphs" fill="#000">2</text>
<path d="M329.3 243.2H338.1" stroke="#333" stroke-width="1.12" stroke-dasharray="1 2.4 1 1.1 1 1 1 10" fill="none"/>
<text x="342.6" y="245.85" font-size="7.3" textLength="7.6" lengthAdjust="spacingAndGlyphs" fill="#000">10</text>
</svg>
</body></html>
